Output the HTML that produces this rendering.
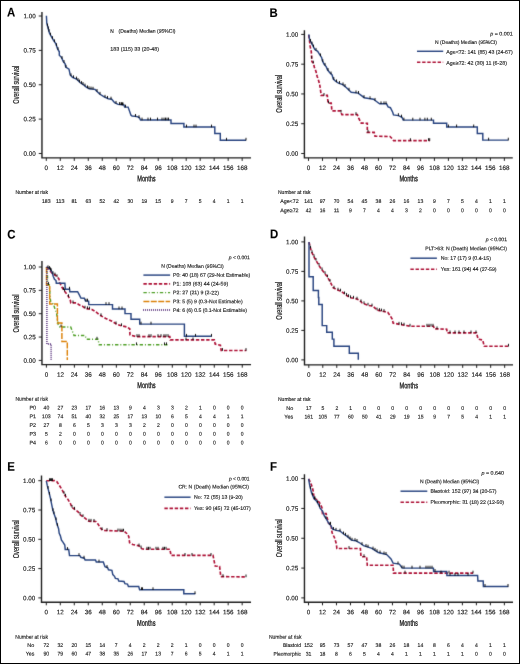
<!DOCTYPE html>
<html><head><meta charset="utf-8"><style>
html,body{margin:0;padding:0;background:#fff;}
svg{display:block;}
*{-webkit-font-smoothing:antialiased;}
text{font-family:"Liberation Sans", sans-serif;}
</style></head><body>
<svg width="520" height="664" viewBox="0 0 520 664">
<rect x="0" y="0" width="520" height="664" fill="#fff"/>
<defs><filter id="soft" filterUnits="userSpaceOnUse" x="0" y="0" width="520" height="664" color-interpolation-filters="sRGB"><feConvolveMatrix order="3" kernelMatrix="0.01 0.075 0.01 0.075 0.66 0.075 0.01 0.075 0.01" edgeMode="duplicate" preserveAlpha="false"/></filter><filter id="ident" filterUnits="userSpaceOnUse" x="0" y="0" width="520" height="664"><feOffset dx="0" dy="0"/></filter></defs>
<g fill="#1a1a1a" stroke="#1a1a1a" stroke-width="0.06" filter="url(#soft)">
<path d="M41.95,11.9 V157.9 H251" fill="none" stroke="#1e1e1e" stroke-width="1.4"/>
<line x1="38.75" y1="153.5" x2="41.95" y2="153.5" stroke="#1e1e1e" stroke-width="1"/>
<line x1="38.75" y1="119.12" x2="41.95" y2="119.12" stroke="#1e1e1e" stroke-width="1"/>
<line x1="38.75" y1="84.75" x2="41.95" y2="84.75" stroke="#1e1e1e" stroke-width="1"/>
<line x1="38.75" y1="50.38" x2="41.95" y2="50.38" stroke="#1e1e1e" stroke-width="1"/>
<line x1="38.75" y1="16" x2="41.95" y2="16" stroke="#1e1e1e" stroke-width="1"/>
<line x1="46.3" y1="157.9" x2="46.3" y2="160.9" stroke="#1e1e1e" stroke-width="1"/>
<line x1="60.29" y1="157.9" x2="60.29" y2="160.9" stroke="#1e1e1e" stroke-width="1"/>
<line x1="74.28" y1="157.9" x2="74.28" y2="160.9" stroke="#1e1e1e" stroke-width="1"/>
<line x1="88.27" y1="157.9" x2="88.27" y2="160.9" stroke="#1e1e1e" stroke-width="1"/>
<line x1="102.26" y1="157.9" x2="102.26" y2="160.9" stroke="#1e1e1e" stroke-width="1"/>
<line x1="116.25" y1="157.9" x2="116.25" y2="160.9" stroke="#1e1e1e" stroke-width="1"/>
<line x1="130.24" y1="157.9" x2="130.24" y2="160.9" stroke="#1e1e1e" stroke-width="1"/>
<line x1="144.23" y1="157.9" x2="144.23" y2="160.9" stroke="#1e1e1e" stroke-width="1"/>
<line x1="158.22" y1="157.9" x2="158.22" y2="160.9" stroke="#1e1e1e" stroke-width="1"/>
<line x1="172.21" y1="157.9" x2="172.21" y2="160.9" stroke="#1e1e1e" stroke-width="1"/>
<line x1="186.2" y1="157.9" x2="186.2" y2="160.9" stroke="#1e1e1e" stroke-width="1"/>
<line x1="200.19" y1="157.9" x2="200.19" y2="160.9" stroke="#1e1e1e" stroke-width="1"/>
<line x1="214.18" y1="157.9" x2="214.18" y2="160.9" stroke="#1e1e1e" stroke-width="1"/>
<line x1="228.17" y1="157.9" x2="228.17" y2="160.9" stroke="#1e1e1e" stroke-width="1"/>
<line x1="242.16" y1="157.9" x2="242.16" y2="160.9" stroke="#1e1e1e" stroke-width="1"/>
<path d="M304.4,30.2 V157.9 H512.8" fill="none" stroke="#1e1e1e" stroke-width="1.4"/>
<line x1="301.2" y1="153.5" x2="304.4" y2="153.5" stroke="#1e1e1e" stroke-width="1"/>
<line x1="301.2" y1="123.72" x2="304.4" y2="123.72" stroke="#1e1e1e" stroke-width="1"/>
<line x1="301.2" y1="93.95" x2="304.4" y2="93.95" stroke="#1e1e1e" stroke-width="1"/>
<line x1="301.2" y1="64.18" x2="304.4" y2="64.18" stroke="#1e1e1e" stroke-width="1"/>
<line x1="301.2" y1="34.4" x2="304.4" y2="34.4" stroke="#1e1e1e" stroke-width="1"/>
<line x1="308.5" y1="157.9" x2="308.5" y2="160.9" stroke="#1e1e1e" stroke-width="1"/>
<line x1="322.49" y1="157.9" x2="322.49" y2="160.9" stroke="#1e1e1e" stroke-width="1"/>
<line x1="336.48" y1="157.9" x2="336.48" y2="160.9" stroke="#1e1e1e" stroke-width="1"/>
<line x1="350.47" y1="157.9" x2="350.47" y2="160.9" stroke="#1e1e1e" stroke-width="1"/>
<line x1="364.46" y1="157.9" x2="364.46" y2="160.9" stroke="#1e1e1e" stroke-width="1"/>
<line x1="378.45" y1="157.9" x2="378.45" y2="160.9" stroke="#1e1e1e" stroke-width="1"/>
<line x1="392.44" y1="157.9" x2="392.44" y2="160.9" stroke="#1e1e1e" stroke-width="1"/>
<line x1="406.43" y1="157.9" x2="406.43" y2="160.9" stroke="#1e1e1e" stroke-width="1"/>
<line x1="420.42" y1="157.9" x2="420.42" y2="160.9" stroke="#1e1e1e" stroke-width="1"/>
<line x1="434.41" y1="157.9" x2="434.41" y2="160.9" stroke="#1e1e1e" stroke-width="1"/>
<line x1="448.4" y1="157.9" x2="448.4" y2="160.9" stroke="#1e1e1e" stroke-width="1"/>
<line x1="462.39" y1="157.9" x2="462.39" y2="160.9" stroke="#1e1e1e" stroke-width="1"/>
<line x1="476.38" y1="157.9" x2="476.38" y2="160.9" stroke="#1e1e1e" stroke-width="1"/>
<line x1="490.37" y1="157.9" x2="490.37" y2="160.9" stroke="#1e1e1e" stroke-width="1"/>
<line x1="504.36" y1="157.9" x2="504.36" y2="160.9" stroke="#1e1e1e" stroke-width="1"/>
<path d="M41.95,260.9 V364.65 H251" fill="none" stroke="#1e1e1e" stroke-width="1.4"/>
<line x1="38.75" y1="360.4" x2="41.95" y2="360.4" stroke="#1e1e1e" stroke-width="1"/>
<line x1="38.75" y1="337.05" x2="41.95" y2="337.05" stroke="#1e1e1e" stroke-width="1"/>
<line x1="38.75" y1="313.7" x2="41.95" y2="313.7" stroke="#1e1e1e" stroke-width="1"/>
<line x1="38.75" y1="290.35" x2="41.95" y2="290.35" stroke="#1e1e1e" stroke-width="1"/>
<line x1="38.75" y1="267" x2="41.95" y2="267" stroke="#1e1e1e" stroke-width="1"/>
<line x1="46.4" y1="364.65" x2="46.4" y2="367.65" stroke="#1e1e1e" stroke-width="1"/>
<line x1="60.39" y1="364.65" x2="60.39" y2="367.65" stroke="#1e1e1e" stroke-width="1"/>
<line x1="74.38" y1="364.65" x2="74.38" y2="367.65" stroke="#1e1e1e" stroke-width="1"/>
<line x1="88.37" y1="364.65" x2="88.37" y2="367.65" stroke="#1e1e1e" stroke-width="1"/>
<line x1="102.36" y1="364.65" x2="102.36" y2="367.65" stroke="#1e1e1e" stroke-width="1"/>
<line x1="116.35" y1="364.65" x2="116.35" y2="367.65" stroke="#1e1e1e" stroke-width="1"/>
<line x1="130.34" y1="364.65" x2="130.34" y2="367.65" stroke="#1e1e1e" stroke-width="1"/>
<line x1="144.33" y1="364.65" x2="144.33" y2="367.65" stroke="#1e1e1e" stroke-width="1"/>
<line x1="158.32" y1="364.65" x2="158.32" y2="367.65" stroke="#1e1e1e" stroke-width="1"/>
<line x1="172.31" y1="364.65" x2="172.31" y2="367.65" stroke="#1e1e1e" stroke-width="1"/>
<line x1="186.3" y1="364.65" x2="186.3" y2="367.65" stroke="#1e1e1e" stroke-width="1"/>
<line x1="200.29" y1="364.65" x2="200.29" y2="367.65" stroke="#1e1e1e" stroke-width="1"/>
<line x1="214.28" y1="364.65" x2="214.28" y2="367.65" stroke="#1e1e1e" stroke-width="1"/>
<line x1="228.27" y1="364.65" x2="228.27" y2="367.65" stroke="#1e1e1e" stroke-width="1"/>
<line x1="242.26" y1="364.65" x2="242.26" y2="367.65" stroke="#1e1e1e" stroke-width="1"/>
<path d="M304.5,236.4 V364.85 H513" fill="none" stroke="#1e1e1e" stroke-width="1.4"/>
<line x1="301.3" y1="359.9" x2="304.5" y2="359.9" stroke="#1e1e1e" stroke-width="1"/>
<line x1="301.3" y1="330.4" x2="304.5" y2="330.4" stroke="#1e1e1e" stroke-width="1"/>
<line x1="301.3" y1="300.9" x2="304.5" y2="300.9" stroke="#1e1e1e" stroke-width="1"/>
<line x1="301.3" y1="271.4" x2="304.5" y2="271.4" stroke="#1e1e1e" stroke-width="1"/>
<line x1="301.3" y1="241.9" x2="304.5" y2="241.9" stroke="#1e1e1e" stroke-width="1"/>
<line x1="308.8" y1="364.85" x2="308.8" y2="367.85" stroke="#1e1e1e" stroke-width="1"/>
<line x1="322.79" y1="364.85" x2="322.79" y2="367.85" stroke="#1e1e1e" stroke-width="1"/>
<line x1="336.78" y1="364.85" x2="336.78" y2="367.85" stroke="#1e1e1e" stroke-width="1"/>
<line x1="350.77" y1="364.85" x2="350.77" y2="367.85" stroke="#1e1e1e" stroke-width="1"/>
<line x1="364.76" y1="364.85" x2="364.76" y2="367.85" stroke="#1e1e1e" stroke-width="1"/>
<line x1="378.75" y1="364.85" x2="378.75" y2="367.85" stroke="#1e1e1e" stroke-width="1"/>
<line x1="392.74" y1="364.85" x2="392.74" y2="367.85" stroke="#1e1e1e" stroke-width="1"/>
<line x1="406.73" y1="364.85" x2="406.73" y2="367.85" stroke="#1e1e1e" stroke-width="1"/>
<line x1="420.72" y1="364.85" x2="420.72" y2="367.85" stroke="#1e1e1e" stroke-width="1"/>
<line x1="434.71" y1="364.85" x2="434.71" y2="367.85" stroke="#1e1e1e" stroke-width="1"/>
<line x1="448.7" y1="364.85" x2="448.7" y2="367.85" stroke="#1e1e1e" stroke-width="1"/>
<line x1="462.69" y1="364.85" x2="462.69" y2="367.85" stroke="#1e1e1e" stroke-width="1"/>
<line x1="476.68" y1="364.85" x2="476.68" y2="367.85" stroke="#1e1e1e" stroke-width="1"/>
<line x1="490.67" y1="364.85" x2="490.67" y2="367.85" stroke="#1e1e1e" stroke-width="1"/>
<line x1="504.66" y1="364.85" x2="504.66" y2="367.85" stroke="#1e1e1e" stroke-width="1"/>
<path d="M41.5,475.6 V602.3 H251" fill="none" stroke="#1e1e1e" stroke-width="1.4"/>
<line x1="38.3" y1="597.9" x2="41.5" y2="597.9" stroke="#1e1e1e" stroke-width="1"/>
<line x1="38.3" y1="568.6" x2="41.5" y2="568.6" stroke="#1e1e1e" stroke-width="1"/>
<line x1="38.3" y1="539.3" x2="41.5" y2="539.3" stroke="#1e1e1e" stroke-width="1"/>
<line x1="38.3" y1="510" x2="41.5" y2="510" stroke="#1e1e1e" stroke-width="1"/>
<line x1="38.3" y1="480.7" x2="41.5" y2="480.7" stroke="#1e1e1e" stroke-width="1"/>
<line x1="46.3" y1="602.3" x2="46.3" y2="605.3" stroke="#1e1e1e" stroke-width="1"/>
<line x1="60.29" y1="602.3" x2="60.29" y2="605.3" stroke="#1e1e1e" stroke-width="1"/>
<line x1="74.28" y1="602.3" x2="74.28" y2="605.3" stroke="#1e1e1e" stroke-width="1"/>
<line x1="88.27" y1="602.3" x2="88.27" y2="605.3" stroke="#1e1e1e" stroke-width="1"/>
<line x1="102.26" y1="602.3" x2="102.26" y2="605.3" stroke="#1e1e1e" stroke-width="1"/>
<line x1="116.25" y1="602.3" x2="116.25" y2="605.3" stroke="#1e1e1e" stroke-width="1"/>
<line x1="130.24" y1="602.3" x2="130.24" y2="605.3" stroke="#1e1e1e" stroke-width="1"/>
<line x1="144.23" y1="602.3" x2="144.23" y2="605.3" stroke="#1e1e1e" stroke-width="1"/>
<line x1="158.22" y1="602.3" x2="158.22" y2="605.3" stroke="#1e1e1e" stroke-width="1"/>
<line x1="172.21" y1="602.3" x2="172.21" y2="605.3" stroke="#1e1e1e" stroke-width="1"/>
<line x1="186.2" y1="602.3" x2="186.2" y2="605.3" stroke="#1e1e1e" stroke-width="1"/>
<line x1="200.19" y1="602.3" x2="200.19" y2="605.3" stroke="#1e1e1e" stroke-width="1"/>
<line x1="214.18" y1="602.3" x2="214.18" y2="605.3" stroke="#1e1e1e" stroke-width="1"/>
<line x1="228.17" y1="602.3" x2="228.17" y2="605.3" stroke="#1e1e1e" stroke-width="1"/>
<line x1="242.16" y1="602.3" x2="242.16" y2="605.3" stroke="#1e1e1e" stroke-width="1"/>
<path d="M304.45,474.3 V602.3 H513" fill="none" stroke="#1e1e1e" stroke-width="1.4"/>
<line x1="301.25" y1="597.9" x2="304.45" y2="597.9" stroke="#1e1e1e" stroke-width="1"/>
<line x1="301.25" y1="568.08" x2="304.45" y2="568.08" stroke="#1e1e1e" stroke-width="1"/>
<line x1="301.25" y1="538.25" x2="304.45" y2="538.25" stroke="#1e1e1e" stroke-width="1"/>
<line x1="301.25" y1="508.43" x2="304.45" y2="508.43" stroke="#1e1e1e" stroke-width="1"/>
<line x1="301.25" y1="478.6" x2="304.45" y2="478.6" stroke="#1e1e1e" stroke-width="1"/>
<line x1="308.5" y1="602.3" x2="308.5" y2="605.3" stroke="#1e1e1e" stroke-width="1"/>
<line x1="322.49" y1="602.3" x2="322.49" y2="605.3" stroke="#1e1e1e" stroke-width="1"/>
<line x1="336.48" y1="602.3" x2="336.48" y2="605.3" stroke="#1e1e1e" stroke-width="1"/>
<line x1="350.47" y1="602.3" x2="350.47" y2="605.3" stroke="#1e1e1e" stroke-width="1"/>
<line x1="364.46" y1="602.3" x2="364.46" y2="605.3" stroke="#1e1e1e" stroke-width="1"/>
<line x1="378.45" y1="602.3" x2="378.45" y2="605.3" stroke="#1e1e1e" stroke-width="1"/>
<line x1="392.44" y1="602.3" x2="392.44" y2="605.3" stroke="#1e1e1e" stroke-width="1"/>
<line x1="406.43" y1="602.3" x2="406.43" y2="605.3" stroke="#1e1e1e" stroke-width="1"/>
<line x1="420.42" y1="602.3" x2="420.42" y2="605.3" stroke="#1e1e1e" stroke-width="1"/>
<line x1="434.41" y1="602.3" x2="434.41" y2="605.3" stroke="#1e1e1e" stroke-width="1"/>
<line x1="448.4" y1="602.3" x2="448.4" y2="605.3" stroke="#1e1e1e" stroke-width="1"/>
<line x1="462.39" y1="602.3" x2="462.39" y2="605.3" stroke="#1e1e1e" stroke-width="1"/>
<line x1="476.38" y1="602.3" x2="476.38" y2="605.3" stroke="#1e1e1e" stroke-width="1"/>
<line x1="490.37" y1="602.3" x2="490.37" y2="605.3" stroke="#1e1e1e" stroke-width="1"/>
<line x1="504.36" y1="602.3" x2="504.36" y2="605.3" stroke="#1e1e1e" stroke-width="1"/>
<line x1="417" y1="51.3" x2="443.2" y2="51.3" stroke="#284480" stroke-width="1.45"/>
<line x1="417" y1="62.3" x2="443.2" y2="62.3" stroke="#ae1237" stroke-width="1.6" stroke-dasharray="3.4,1.75"/>
<line x1="143.4" y1="275.1" x2="170.1" y2="275.1" stroke="#284480" stroke-width="1.45"/>
<line x1="143.4" y1="283.9" x2="170.1" y2="283.9" stroke="#ae1237" stroke-width="1.6" stroke-dasharray="3.4,1.75"/>
<line x1="143.4" y1="292.7" x2="170.1" y2="292.7" stroke="#50a028" stroke-width="1.3" stroke-dasharray="3.4,1.9,1.0,1.9"/>
<line x1="143.4" y1="301.5" x2="170.1" y2="301.5" stroke="#dc820a" stroke-width="1.3" stroke-dasharray="6.0,1.4"/>
<line x1="143" y1="310.1" x2="170" y2="310.1" stroke="#4b2272" stroke-width="1.5" stroke-dasharray="1.0,1.0"/>
<line x1="410.4" y1="258.2" x2="436.9" y2="258.2" stroke="#284480" stroke-width="1.45"/>
<line x1="410.4" y1="269.2" x2="436.9" y2="269.2" stroke="#ae1237" stroke-width="1.6" stroke-dasharray="3.4,1.75"/>
<line x1="164.4" y1="497.2" x2="190.6" y2="497.2" stroke="#284480" stroke-width="1.45"/>
<line x1="164.4" y1="508.4" x2="190.6" y2="508.4" stroke="#ae1237" stroke-width="1.6" stroke-dasharray="3.4,1.75"/>
<line x1="400.5" y1="491.2" x2="427.3" y2="491.2" stroke="#284480" stroke-width="1.45"/>
<line x1="400.5" y1="502.2" x2="427.3" y2="502.2" stroke="#ae1237" stroke-width="1.6" stroke-dasharray="3.4,1.75"/>
<polyline points="46.4,15.8 46.8,23.5 47.8,27 49.5,33.3 51.8,37.4 53.5,40.3 55.8,43.7 57.6,48.9 59.3,51.8 59.3,55.3 61.6,57.6 63.3,61.6 65.1,63.9 65.7,67 69,69.2 70.2,75 72.5,77.3 76.5,79 80,82.5 83.5,84.8 86.3,87.1 89.2,88.8 95,89.4 99.6,94 104.2,96.9 108.3,98.7 111.7,99.2 114.6,102.7 118.1,104.4 124,105 124.6,107.1 128.1,107.1 131,115.2 132.1,116 135,116.3 137.9,116.9 139.6,118.1 140.5,120 171,120 171,123.4 183.9,123.4 183.9,127 214.8,127 214.8,133.4 220.3,133.4 220.3,140.2 246,140.2" fill="none" stroke="#284480" stroke-width="1.45" stroke-linejoin="miter"/>
<line x1="47.5" y1="26.25" x2="47.5" y2="23.55" stroke="#000" stroke-width="0.9"/>
<line x1="48.3" y1="29.15" x2="48.3" y2="26.45" stroke="#000" stroke-width="0.9"/>
<line x1="49" y1="31.75" x2="49" y2="29.05" stroke="#000" stroke-width="0.9"/>
<line x1="50.5" y1="35.38" x2="50.5" y2="32.68" stroke="#000" stroke-width="0.9"/>
<line x1="52.5" y1="38.89" x2="52.5" y2="36.19" stroke="#000" stroke-width="0.9"/>
<line x1="54.5" y1="42.08" x2="54.5" y2="39.38" stroke="#000" stroke-width="0.9"/>
<line x1="56.5" y1="46.02" x2="56.5" y2="43.32" stroke="#000" stroke-width="0.9"/>
<line x1="58" y1="49.88" x2="58" y2="47.18" stroke="#000" stroke-width="0.9"/>
<line x1="62" y1="58.84" x2="62" y2="56.14" stroke="#000" stroke-width="0.9"/>
<line x1="64" y1="62.79" x2="64" y2="60.09" stroke="#000" stroke-width="0.9"/>
<line x1="66" y1="67.5" x2="66" y2="64.8" stroke="#000" stroke-width="0.9"/>
<line x1="71" y1="76.1" x2="71" y2="73.4" stroke="#000" stroke-width="0.9"/>
<line x1="73.5" y1="78.02" x2="73.5" y2="75.32" stroke="#000" stroke-width="0.9"/>
<line x1="76.5" y1="79.3" x2="76.5" y2="76.6" stroke="#000" stroke-width="0.9"/>
<line x1="78" y1="80.8" x2="78" y2="78.1" stroke="#000" stroke-width="0.9"/>
<line x1="79.5" y1="82.3" x2="79.5" y2="79.6" stroke="#000" stroke-width="0.9"/>
<line x1="81.5" y1="83.79" x2="81.5" y2="81.09" stroke="#000" stroke-width="0.9"/>
<line x1="83" y1="84.77" x2="83" y2="82.07" stroke="#000" stroke-width="0.9"/>
<line x1="85" y1="86.33" x2="85" y2="83.63" stroke="#000" stroke-width="0.9"/>
<line x1="87.5" y1="88.1" x2="87.5" y2="85.4" stroke="#000" stroke-width="0.9"/>
<line x1="89" y1="88.98" x2="89" y2="86.28" stroke="#000" stroke-width="0.9"/>
<line x1="91" y1="89.29" x2="91" y2="86.59" stroke="#000" stroke-width="0.9"/>
<line x1="93" y1="89.49" x2="93" y2="86.79" stroke="#000" stroke-width="0.9"/>
<line x1="97" y1="91.7" x2="97" y2="89" stroke="#000" stroke-width="0.9"/>
<line x1="100" y1="94.55" x2="100" y2="91.85" stroke="#000" stroke-width="0.9"/>
<line x1="105" y1="97.55" x2="105" y2="94.85" stroke="#000" stroke-width="0.9"/>
<line x1="107.5" y1="98.65" x2="107.5" y2="95.95" stroke="#000" stroke-width="0.9"/>
<line x1="111" y1="99.4" x2="111" y2="96.7" stroke="#000" stroke-width="0.9"/>
<line x1="116" y1="103.68" x2="116" y2="100.98" stroke="#000" stroke-width="0.9"/>
<line x1="119.5" y1="104.84" x2="119.5" y2="102.14" stroke="#000" stroke-width="0.9"/>
<line x1="121" y1="104.99" x2="121" y2="102.29" stroke="#000" stroke-width="0.9"/>
<line x1="122.5" y1="105.15" x2="122.5" y2="102.45" stroke="#000" stroke-width="0.9"/>
<line x1="121.5" y1="105.05" x2="121.5" y2="102.35" stroke="#000" stroke-width="0.9"/>
<line x1="123" y1="105.2" x2="123" y2="102.5" stroke="#000" stroke-width="0.9"/>
<line x1="125.5" y1="107.4" x2="125.5" y2="104.7" stroke="#000" stroke-width="0.9"/>
<line x1="135.5" y1="116.7" x2="135.5" y2="114" stroke="#000" stroke-width="0.9"/>
<line x1="139" y1="117.98" x2="139" y2="115.28" stroke="#000" stroke-width="0.9"/>
<line x1="142" y1="120.3" x2="142" y2="117.6" stroke="#000" stroke-width="0.9"/>
<line x1="148" y1="120.3" x2="148" y2="117.6" stroke="#000" stroke-width="0.9"/>
<line x1="150.5" y1="120.3" x2="150.5" y2="117.6" stroke="#000" stroke-width="0.9"/>
<line x1="157.5" y1="120.3" x2="157.5" y2="117.6" stroke="#000" stroke-width="0.9"/>
<line x1="162" y1="120.3" x2="162" y2="117.6" stroke="#000" stroke-width="0.9"/>
<line x1="164" y1="120.3" x2="164" y2="117.6" stroke="#000" stroke-width="0.9"/>
<line x1="165.5" y1="120.3" x2="165.5" y2="117.6" stroke="#000" stroke-width="0.9"/>
<line x1="167" y1="120.3" x2="167" y2="117.6" stroke="#000" stroke-width="0.9"/>
<line x1="168.5" y1="120.3" x2="168.5" y2="117.6" stroke="#000" stroke-width="0.9"/>
<line x1="186.5" y1="127.3" x2="186.5" y2="124.6" stroke="#000" stroke-width="0.9"/>
<line x1="194" y1="127.3" x2="194" y2="124.6" stroke="#000" stroke-width="0.9"/>
<line x1="196" y1="127.3" x2="196" y2="124.6" stroke="#000" stroke-width="0.9"/>
<line x1="211.5" y1="127.3" x2="211.5" y2="124.6" stroke="#000" stroke-width="0.9"/>
<line x1="226.5" y1="140.5" x2="226.5" y2="137.8" stroke="#000" stroke-width="0.9"/>
<line x1="246" y1="140.5" x2="246" y2="137.8" stroke="#000" stroke-width="0.9"/>
<polyline points="308.8,35 309.6,41.5 310.2,46.7 311.3,51.9 311.9,61.7 313.7,63.5 314.2,66.9 316,71.5 317.1,76.2 318.3,79.6 319.6,84 320.5,90 321.2,95.4 327.3,95.4 328.1,103.1 331.2,103.1 331.9,110.8 340.4,110.8 341.9,114.6 357.3,114.6 358.8,118.5 361.2,123.1 367.3,123.3 367.3,132.3 374.2,132.3 375,136.2 390,136.5 392.4,138.9 393.6,140.6 429.7,140.6" fill="none" stroke="#ae1237" stroke-width="1.65" stroke-linejoin="miter" stroke-dasharray="3.4,1.75"/>
<polyline points="308.8,34.4 309.6,39.8 311.3,42.7 313.1,46.2 314.8,49.6 317.7,51.3 319.4,54.2 321.7,57.7 322.3,60.6 324,64 326.3,66.9 327.5,69.8 329.8,72.7 332.1,75 333.3,79 335.6,81.3 338.5,83.1 342.7,84.6 346.5,87.7 351.2,92.3 358.1,93.1 361.2,95.4 364.2,97.7 368.8,98.5 373.5,99.2 376.5,101.5 379.6,103.8 386.5,103.8 388.1,106.9 390.4,107.7 392.7,112.3 393.5,114.9 398.4,115.6 402,117.3 403.2,120.1 433.5,120.1 433.5,123.3 446.7,123.3 446.7,126.9 477.3,126.9 477.3,133.4 482.8,133.4 482.8,140.1 508.3,140.1" fill="none" stroke="#284480" stroke-width="1.45" stroke-linejoin="miter"/>
<line x1="310.5" y1="41.64" x2="310.5" y2="38.94" stroke="#000" stroke-width="0.9"/>
<line x1="312" y1="44.36" x2="312" y2="41.66" stroke="#000" stroke-width="0.9"/>
<line x1="313.5" y1="47.3" x2="313.5" y2="44.6" stroke="#000" stroke-width="0.9"/>
<line x1="316" y1="50.6" x2="316" y2="47.9" stroke="#000" stroke-width="0.9"/>
<line x1="320.5" y1="56.17" x2="320.5" y2="53.47" stroke="#000" stroke-width="0.9"/>
<line x1="322.8" y1="61.9" x2="322.8" y2="59.2" stroke="#000" stroke-width="0.9"/>
<line x1="325" y1="65.56" x2="325" y2="62.86" stroke="#000" stroke-width="0.9"/>
<line x1="328" y1="70.73" x2="328" y2="68.03" stroke="#000" stroke-width="0.9"/>
<line x1="331" y1="74.2" x2="331" y2="71.5" stroke="#000" stroke-width="0.9"/>
<line x1="333.8" y1="79.8" x2="333.8" y2="77.1" stroke="#000" stroke-width="0.9"/>
<line x1="336.5" y1="82.16" x2="336.5" y2="79.46" stroke="#000" stroke-width="0.9"/>
<line x1="339.5" y1="83.76" x2="339.5" y2="81.06" stroke="#000" stroke-width="0.9"/>
<line x1="343" y1="85.14" x2="343" y2="82.44" stroke="#000" stroke-width="0.9"/>
<line x1="345" y1="86.78" x2="345" y2="84.08" stroke="#000" stroke-width="0.9"/>
<line x1="349" y1="90.45" x2="349" y2="87.75" stroke="#000" stroke-width="0.9"/>
<line x1="356" y1="93.16" x2="356" y2="90.46" stroke="#000" stroke-width="0.9"/>
<line x1="358.5" y1="93.7" x2="358.5" y2="91" stroke="#000" stroke-width="0.9"/>
<line x1="364" y1="97.85" x2="364" y2="95.15" stroke="#000" stroke-width="0.9"/>
<line x1="370" y1="98.98" x2="370" y2="96.28" stroke="#000" stroke-width="0.9"/>
<line x1="375" y1="100.65" x2="375" y2="97.95" stroke="#000" stroke-width="0.9"/>
<line x1="381" y1="104.1" x2="381" y2="101.4" stroke="#000" stroke-width="0.9"/>
<line x1="384" y1="104.1" x2="384" y2="101.4" stroke="#000" stroke-width="0.9"/>
<line x1="386" y1="104.1" x2="386" y2="101.4" stroke="#000" stroke-width="0.9"/>
<line x1="398.4" y1="115.9" x2="398.4" y2="113.2" stroke="#000" stroke-width="0.9"/>
<line x1="401.5" y1="117.36" x2="401.5" y2="114.66" stroke="#000" stroke-width="0.9"/>
<line x1="403.9" y1="120.4" x2="403.9" y2="117.7" stroke="#000" stroke-width="0.9"/>
<line x1="412.8" y1="120.4" x2="412.8" y2="117.7" stroke="#000" stroke-width="0.9"/>
<line x1="420" y1="120.4" x2="420" y2="117.7" stroke="#000" stroke-width="0.9"/>
<line x1="424.9" y1="120.4" x2="424.9" y2="117.7" stroke="#000" stroke-width="0.9"/>
<line x1="427.3" y1="120.4" x2="427.3" y2="117.7" stroke="#000" stroke-width="0.9"/>
<line x1="431.3" y1="120.4" x2="431.3" y2="117.7" stroke="#000" stroke-width="0.9"/>
<line x1="448.4" y1="127.2" x2="448.4" y2="124.5" stroke="#000" stroke-width="0.9"/>
<line x1="456.6" y1="127.2" x2="456.6" y2="124.5" stroke="#000" stroke-width="0.9"/>
<line x1="473.7" y1="127.2" x2="473.7" y2="124.5" stroke="#000" stroke-width="0.9"/>
<line x1="488.6" y1="140.4" x2="488.6" y2="137.7" stroke="#000" stroke-width="0.9"/>
<line x1="508.3" y1="140.4" x2="508.3" y2="137.7" stroke="#000" stroke-width="0.9"/>
<line x1="311.7" y1="58.73" x2="311.7" y2="56.03" stroke="#000" stroke-width="0.9"/>
<line x1="313.3" y1="63.4" x2="313.3" y2="60.7" stroke="#000" stroke-width="0.9"/>
<line x1="324" y1="95.7" x2="324" y2="93" stroke="#000" stroke-width="0.9"/>
<line x1="328.5" y1="103.4" x2="328.5" y2="100.7" stroke="#000" stroke-width="0.9"/>
<line x1="341" y1="112.62" x2="341" y2="109.92" stroke="#000" stroke-width="0.9"/>
<line x1="356" y1="114.9" x2="356" y2="112.2" stroke="#000" stroke-width="0.9"/>
<line x1="368" y1="132.6" x2="368" y2="129.9" stroke="#000" stroke-width="0.9"/>
<line x1="410.4" y1="140.9" x2="410.4" y2="138.2" stroke="#000" stroke-width="0.9"/>
<line x1="428.5" y1="140.9" x2="428.5" y2="138.2" stroke="#000" stroke-width="0.9"/>
<line x1="429.7" y1="140.9" x2="429.7" y2="138.2" stroke="#000" stroke-width="0.9"/>
<polyline points="46.5,267 47.4,275 47.7,284.2 49.2,284.8 49.7,290.8 50.2,298.5 50.7,301.4 53.5,304.3 55,309.1 56.6,313 58.2,324.6 59.9,327 70.7,327 74,335.4 84.8,335.4 86.7,339.2 98,339.2 99.2,344.8 167.5,344.8" fill="none" stroke="#50a028" stroke-width="1.45" stroke-linejoin="miter" stroke-dasharray="3.4,1.9,1.0,1.9"/>
<polyline points="46.5,267 49.5,270 52,273.1 55.7,275.5 58.8,278.6 59.7,282.3 61.2,286 63.1,289.1 65,291.8 68,295.7 70.4,300.5 70.8,302.9 76.6,302.9 79,304.8 82.4,306.2 85.3,308.4 91.9,309.5 95.4,311.5 99.7,315 105.8,318.5 112.7,321.6 116.2,324 121.3,325.7 127.4,327.1 129.7,328.8 130,334.9 136.1,336.6 169.8,336.6 170.2,339.9 214.3,339.9 215.2,344.1 220.4,345.3 221.2,350.5 246.3,350.5" fill="none" stroke="#ae1237" stroke-width="1.65" stroke-linejoin="miter" stroke-dasharray="3.4,1.75"/>
<polyline points="46.5,267 49.5,268.5 52,271.8 53.2,276.2 54.5,279.2 56,280.5 56.3,283.2 64.9,283.2 65.3,289.2 69.6,289.2 69.8,291.7 77.6,291.7 79.2,294.7 80.9,298 84.3,298.3 85.5,301.1 88.6,301.1 88.8,304.6 112.5,304.6 112.5,308.9 125,308.9 125,313.6 131,313.6 131,319.3 139.7,319.3 139.7,324.1 184.4,324.1 184.4,336.3 211.7,336.3" fill="none" stroke="#284480" stroke-width="1.45" stroke-linejoin="miter"/>
<polyline points="46.5,267 46.5,285.1 49.7,285.1 49.7,304 57.4,304 57.4,323 61.9,323 61.9,341.5 67.3,341.5 67.3,360" fill="none" stroke="#dc820a" stroke-width="1.45" stroke-linejoin="miter" stroke-dasharray="6.0,1.4"/>
<polyline points="46.9,267 46.9,344 51.1,344 51.1,360.4" fill="none" stroke="#4b2272" stroke-width="1.4" stroke-linejoin="miter" stroke-dasharray="1.0,1.0"/>
<line x1="48" y1="268.05" x2="48" y2="265.35" stroke="#000" stroke-width="0.9"/>
<line x1="49.5" y1="268.8" x2="49.5" y2="266.1" stroke="#000" stroke-width="0.9"/>
<line x1="50.5" y1="270.12" x2="50.5" y2="267.42" stroke="#000" stroke-width="0.9"/>
<line x1="51.2" y1="271.04" x2="51.2" y2="268.34" stroke="#000" stroke-width="0.9"/>
<line x1="69.5" y1="289.5" x2="69.5" y2="286.8" stroke="#000" stroke-width="0.9"/>
<line x1="86" y1="301.4" x2="86" y2="298.7" stroke="#000" stroke-width="0.9"/>
<line x1="87.5" y1="301.4" x2="87.5" y2="298.7" stroke="#000" stroke-width="0.9"/>
<line x1="106" y1="304.9" x2="106" y2="302.2" stroke="#000" stroke-width="0.9"/>
<line x1="109" y1="304.9" x2="109" y2="302.2" stroke="#000" stroke-width="0.9"/>
<line x1="119" y1="309.2" x2="119" y2="306.5" stroke="#000" stroke-width="0.9"/>
<line x1="122" y1="309.2" x2="122" y2="306.5" stroke="#000" stroke-width="0.9"/>
<line x1="141" y1="324.4" x2="141" y2="321.7" stroke="#000" stroke-width="0.9"/>
<line x1="151" y1="324.4" x2="151" y2="321.7" stroke="#000" stroke-width="0.9"/>
<line x1="186.5" y1="336.6" x2="186.5" y2="333.9" stroke="#000" stroke-width="0.9"/>
<line x1="195.5" y1="336.6" x2="195.5" y2="333.9" stroke="#000" stroke-width="0.9"/>
<line x1="211.5" y1="336.6" x2="211.5" y2="333.9" stroke="#000" stroke-width="0.9"/>
<line x1="53" y1="274.05" x2="53" y2="271.35" stroke="#000" stroke-width="0.9"/>
<line x1="55" y1="275.35" x2="55" y2="272.65" stroke="#000" stroke-width="0.9"/>
<line x1="57" y1="277.1" x2="57" y2="274.4" stroke="#000" stroke-width="0.9"/>
<line x1="63.5" y1="289.97" x2="63.5" y2="287.27" stroke="#000" stroke-width="0.9"/>
<line x1="64.5" y1="291.39" x2="64.5" y2="288.69" stroke="#000" stroke-width="0.9"/>
<line x1="68.5" y1="297" x2="68.5" y2="294.3" stroke="#000" stroke-width="0.9"/>
<line x1="73" y1="303.2" x2="73" y2="300.5" stroke="#000" stroke-width="0.9"/>
<line x1="85" y1="308.47" x2="85" y2="305.77" stroke="#000" stroke-width="0.9"/>
<line x1="87.5" y1="309.07" x2="87.5" y2="306.37" stroke="#000" stroke-width="0.9"/>
<line x1="89.5" y1="309.4" x2="89.5" y2="306.7" stroke="#000" stroke-width="0.9"/>
<line x1="101" y1="316.05" x2="101" y2="313.35" stroke="#000" stroke-width="0.9"/>
<line x1="116" y1="324.16" x2="116" y2="321.46" stroke="#000" stroke-width="0.9"/>
<line x1="121.5" y1="326.05" x2="121.5" y2="323.35" stroke="#000" stroke-width="0.9"/>
<line x1="137" y1="336.9" x2="137" y2="334.2" stroke="#000" stroke-width="0.9"/>
<line x1="139" y1="336.9" x2="139" y2="334.2" stroke="#000" stroke-width="0.9"/>
<line x1="149" y1="336.9" x2="149" y2="334.2" stroke="#000" stroke-width="0.9"/>
<line x1="151" y1="336.9" x2="151" y2="334.2" stroke="#000" stroke-width="0.9"/>
<line x1="158" y1="336.9" x2="158" y2="334.2" stroke="#000" stroke-width="0.9"/>
<line x1="161" y1="336.9" x2="161" y2="334.2" stroke="#000" stroke-width="0.9"/>
<line x1="164" y1="336.9" x2="164" y2="334.2" stroke="#000" stroke-width="0.9"/>
<line x1="166" y1="336.9" x2="166" y2="334.2" stroke="#000" stroke-width="0.9"/>
<line x1="168" y1="336.9" x2="168" y2="334.2" stroke="#000" stroke-width="0.9"/>
<line x1="186" y1="340.2" x2="186" y2="337.5" stroke="#000" stroke-width="0.9"/>
<line x1="193" y1="340.2" x2="193" y2="337.5" stroke="#000" stroke-width="0.9"/>
<line x1="222.5" y1="350.8" x2="222.5" y2="348.1" stroke="#000" stroke-width="0.9"/>
<line x1="246" y1="350.8" x2="246" y2="348.1" stroke="#000" stroke-width="0.9"/>
<line x1="48.5" y1="284.82" x2="48.5" y2="282.12" stroke="#000" stroke-width="0.9"/>
<line x1="61" y1="327.3" x2="61" y2="324.6" stroke="#000" stroke-width="0.9"/>
<line x1="97" y1="339.5" x2="97" y2="336.8" stroke="#000" stroke-width="0.9"/>
<line x1="136.5" y1="345.1" x2="136.5" y2="342.4" stroke="#000" stroke-width="0.9"/>
<line x1="164.5" y1="345.1" x2="164.5" y2="342.4" stroke="#000" stroke-width="0.9"/>
<line x1="166.5" y1="345.1" x2="166.5" y2="342.4" stroke="#000" stroke-width="0.9"/>
<polyline points="309,242.1 311.3,251.3 315,258.8 320.7,268.2 327.3,276.7 330,281.5 333.1,287.7 337.7,290 341.5,291.5 345.4,294.6 350,297.7 355.4,298.5 359.2,300 362.3,303.1 368.5,305.4 373.1,306.2 376.9,310 383.8,311.5 387.7,312.3 390,315.4 392.3,319.2 393.1,323.1 400.8,324.6 410,326.2 433.5,326.2 434.4,328.8 446.7,329.2 447.3,332.9 476.5,332.9 478.1,339.1 482.7,340 484.2,346.2 508.8,346.2" fill="none" stroke="#ae1237" stroke-width="1.65" stroke-linejoin="miter" stroke-dasharray="3.4,1.75"/>
<polyline points="309,242.1 309,276.7 313.2,276.7 313.2,290.4 318.4,290.4 318.4,297.4 318.8,297.4 318.8,304.5 322.2,304.5 322.2,325.6 326.7,325.6 326.7,332.2 332.3,332.2 332.3,339.1 333.9,339.1 333.9,346.3 349.3,346.3 349.3,353.2 358.3,353.2 358.3,359.8" fill="none" stroke="#284480" stroke-width="1.45" stroke-linejoin="miter"/>
<line x1="310.5" y1="248.4" x2="310.5" y2="245.7" stroke="#000" stroke-width="0.9"/>
<line x1="312" y1="253.02" x2="312" y2="250.32" stroke="#000" stroke-width="0.9"/>
<line x1="314" y1="257.07" x2="314" y2="254.37" stroke="#000" stroke-width="0.9"/>
<line x1="316" y1="260.75" x2="316" y2="258.05" stroke="#000" stroke-width="0.9"/>
<line x1="319" y1="265.7" x2="319" y2="263" stroke="#000" stroke-width="0.9"/>
<line x1="322" y1="270.17" x2="322" y2="267.47" stroke="#000" stroke-width="0.9"/>
<line x1="325" y1="274.04" x2="325" y2="271.34" stroke="#000" stroke-width="0.9"/>
<line x1="327.5" y1="277.36" x2="327.5" y2="274.66" stroke="#000" stroke-width="0.9"/>
<line x1="330" y1="281.8" x2="330" y2="279.1" stroke="#000" stroke-width="0.9"/>
<line x1="334" y1="288.45" x2="334" y2="285.75" stroke="#000" stroke-width="0.9"/>
<line x1="338" y1="290.42" x2="338" y2="287.72" stroke="#000" stroke-width="0.9"/>
<line x1="340.5" y1="291.41" x2="340.5" y2="288.71" stroke="#000" stroke-width="0.9"/>
<line x1="344.5" y1="294.18" x2="344.5" y2="291.48" stroke="#000" stroke-width="0.9"/>
<line x1="346.5" y1="295.64" x2="346.5" y2="292.94" stroke="#000" stroke-width="0.9"/>
<line x1="348.5" y1="296.99" x2="348.5" y2="294.29" stroke="#000" stroke-width="0.9"/>
<line x1="350.5" y1="298.07" x2="350.5" y2="295.37" stroke="#000" stroke-width="0.9"/>
<line x1="353.5" y1="298.52" x2="353.5" y2="295.82" stroke="#000" stroke-width="0.9"/>
<line x1="357" y1="299.43" x2="357" y2="296.73" stroke="#000" stroke-width="0.9"/>
<line x1="361" y1="302.1" x2="361" y2="299.4" stroke="#000" stroke-width="0.9"/>
<line x1="364" y1="304.03" x2="364" y2="301.33" stroke="#000" stroke-width="0.9"/>
<line x1="368" y1="305.51" x2="368" y2="302.81" stroke="#000" stroke-width="0.9"/>
<line x1="372" y1="306.31" x2="372" y2="303.61" stroke="#000" stroke-width="0.9"/>
<line x1="377" y1="310.32" x2="377" y2="307.62" stroke="#000" stroke-width="0.9"/>
<line x1="379.5" y1="310.87" x2="379.5" y2="308.17" stroke="#000" stroke-width="0.9"/>
<line x1="381.5" y1="311.3" x2="381.5" y2="308.6" stroke="#000" stroke-width="0.9"/>
<line x1="384" y1="311.84" x2="384" y2="309.14" stroke="#000" stroke-width="0.9"/>
<line x1="399" y1="324.55" x2="399" y2="321.85" stroke="#000" stroke-width="0.9"/>
<line x1="401.5" y1="325.02" x2="401.5" y2="322.32" stroke="#000" stroke-width="0.9"/>
<line x1="404" y1="325.46" x2="404" y2="322.76" stroke="#000" stroke-width="0.9"/>
<line x1="410" y1="326.5" x2="410" y2="323.8" stroke="#000" stroke-width="0.9"/>
<line x1="427" y1="326.5" x2="427" y2="323.8" stroke="#000" stroke-width="0.9"/>
<line x1="429" y1="326.5" x2="429" y2="323.8" stroke="#000" stroke-width="0.9"/>
<line x1="431" y1="326.5" x2="431" y2="323.8" stroke="#000" stroke-width="0.9"/>
<line x1="433" y1="326.5" x2="433" y2="323.8" stroke="#000" stroke-width="0.9"/>
<line x1="437" y1="329.18" x2="437" y2="326.48" stroke="#000" stroke-width="0.9"/>
<line x1="450" y1="333.2" x2="450" y2="330.5" stroke="#000" stroke-width="0.9"/>
<line x1="455" y1="333.2" x2="455" y2="330.5" stroke="#000" stroke-width="0.9"/>
<line x1="459" y1="333.2" x2="459" y2="330.5" stroke="#000" stroke-width="0.9"/>
<line x1="464" y1="333.2" x2="464" y2="330.5" stroke="#000" stroke-width="0.9"/>
<line x1="471" y1="333.2" x2="471" y2="330.5" stroke="#000" stroke-width="0.9"/>
<line x1="476" y1="333.2" x2="476" y2="330.5" stroke="#000" stroke-width="0.9"/>
<line x1="508.5" y1="346.5" x2="508.5" y2="343.8" stroke="#000" stroke-width="0.9"/>
<polyline points="46.3,480.8 54.6,480.6 56.9,481.7 59.2,485.2 62,489.7 64.3,494.3 66,497 68.1,499.6 70.4,503.5 71.9,507.3 75,509.6 78.1,511.9 80.4,515 85,518.1 88.8,521.2 95.8,521.5 98.1,524.2 100.4,528.1 102.7,530.4 124.2,531.2 126.5,533.2 128.8,536.5 129.6,542.7 132.7,544.5 138.8,545.8 141.9,548.8 145,549.2 169.9,549.2 171,555.4 213,555.4 214.1,560.9 215.2,566 219.6,566.5 220.8,576.6 246.2,576.9" fill="none" stroke="#ae1237" stroke-width="1.65" stroke-linejoin="miter" stroke-dasharray="3.4,1.75"/>
<polyline points="46.3,480.8 47.2,485.2 48.9,492 50.6,498.9 51.7,504.6 52.9,510.4 54,513.8 55.7,518.4 56.9,524.1 58.6,528.7 59.2,533.3 60.3,535.6 61.5,540.1 62.6,541.7 64.8,545 65.2,549.5 68.7,549.5 69.5,555.6 79.9,555.6 80.8,557.3 84.2,558.2 85.1,559.9 95.5,559.9 96.3,562 103.3,562 104.1,564.2 105,566.8 107.6,567.7 108.5,569.8 111.9,570.3 112.8,574.6 114.5,576.3 115.4,578.4 118,578.9 118.8,581 124,581.5 124.9,583.6 127.5,584.1 128.4,586.4 138.7,586.4 139.6,589.7 183.8,589.7 183.8,593.7 195.3,593.7" fill="none" stroke="#284480" stroke-width="1.45" stroke-linejoin="miter"/>
<line x1="48" y1="488.7" x2="48" y2="486" stroke="#000" stroke-width="0.9"/>
<line x1="49.5" y1="494.74" x2="49.5" y2="492.04" stroke="#000" stroke-width="0.9"/>
<line x1="51" y1="501.27" x2="51" y2="498.57" stroke="#000" stroke-width="0.9"/>
<line x1="53" y1="511.01" x2="53" y2="508.31" stroke="#000" stroke-width="0.9"/>
<line x1="54" y1="514.1" x2="54" y2="511.4" stroke="#000" stroke-width="0.9"/>
<line x1="56" y1="520.12" x2="56" y2="517.42" stroke="#000" stroke-width="0.9"/>
<line x1="57.5" y1="526.02" x2="57.5" y2="523.32" stroke="#000" stroke-width="0.9"/>
<line x1="67.5" y1="549.8" x2="67.5" y2="547.1" stroke="#000" stroke-width="0.9"/>
<line x1="79" y1="555.9" x2="79" y2="553.2" stroke="#000" stroke-width="0.9"/>
<line x1="84" y1="558.45" x2="84" y2="555.75" stroke="#000" stroke-width="0.9"/>
<line x1="99" y1="562.3" x2="99" y2="559.6" stroke="#000" stroke-width="0.9"/>
<line x1="107" y1="567.79" x2="107" y2="565.09" stroke="#000" stroke-width="0.9"/>
<line x1="141.5" y1="590" x2="141.5" y2="587.3" stroke="#000" stroke-width="0.9"/>
<line x1="142.5" y1="590" x2="142.5" y2="587.3" stroke="#000" stroke-width="0.9"/>
<line x1="153" y1="590" x2="153" y2="587.3" stroke="#000" stroke-width="0.9"/>
<line x1="195" y1="594" x2="195" y2="591.3" stroke="#000" stroke-width="0.9"/>
<line x1="49.5" y1="481.02" x2="49.5" y2="478.32" stroke="#000" stroke-width="0.9"/>
<line x1="50.5" y1="481" x2="50.5" y2="478.3" stroke="#000" stroke-width="0.9"/>
<line x1="51.5" y1="480.97" x2="51.5" y2="478.27" stroke="#000" stroke-width="0.9"/>
<line x1="52.5" y1="480.95" x2="52.5" y2="478.25" stroke="#000" stroke-width="0.9"/>
<line x1="64" y1="494" x2="64" y2="491.3" stroke="#000" stroke-width="0.9"/>
<line x1="65.5" y1="496.51" x2="65.5" y2="493.81" stroke="#000" stroke-width="0.9"/>
<line x1="72" y1="507.67" x2="72" y2="504.97" stroke="#000" stroke-width="0.9"/>
<line x1="74.5" y1="509.53" x2="74.5" y2="506.83" stroke="#000" stroke-width="0.9"/>
<line x1="80" y1="514.76" x2="80" y2="512.06" stroke="#000" stroke-width="0.9"/>
<line x1="83" y1="517.05" x2="83" y2="514.35" stroke="#000" stroke-width="0.9"/>
<line x1="89" y1="521.51" x2="89" y2="518.81" stroke="#000" stroke-width="0.9"/>
<line x1="91" y1="521.59" x2="91" y2="518.89" stroke="#000" stroke-width="0.9"/>
<line x1="94" y1="521.72" x2="94" y2="519.02" stroke="#000" stroke-width="0.9"/>
<line x1="102" y1="530" x2="102" y2="527.3" stroke="#000" stroke-width="0.9"/>
<line x1="107" y1="530.86" x2="107" y2="528.16" stroke="#000" stroke-width="0.9"/>
<line x1="118" y1="531.27" x2="118" y2="528.57" stroke="#000" stroke-width="0.9"/>
<line x1="120" y1="531.34" x2="120" y2="528.64" stroke="#000" stroke-width="0.9"/>
<line x1="122" y1="531.42" x2="122" y2="528.72" stroke="#000" stroke-width="0.9"/>
<line x1="123.5" y1="531.47" x2="123.5" y2="528.77" stroke="#000" stroke-width="0.9"/>
<line x1="139" y1="546.29" x2="139" y2="543.59" stroke="#000" stroke-width="0.9"/>
<line x1="141" y1="548.23" x2="141" y2="545.53" stroke="#000" stroke-width="0.9"/>
<line x1="147" y1="549.5" x2="147" y2="546.8" stroke="#000" stroke-width="0.9"/>
<line x1="148.5" y1="549.5" x2="148.5" y2="546.8" stroke="#000" stroke-width="0.9"/>
<line x1="150" y1="549.5" x2="150" y2="546.8" stroke="#000" stroke-width="0.9"/>
<line x1="156" y1="549.5" x2="156" y2="546.8" stroke="#000" stroke-width="0.9"/>
<line x1="158" y1="549.5" x2="158" y2="546.8" stroke="#000" stroke-width="0.9"/>
<line x1="163" y1="549.5" x2="163" y2="546.8" stroke="#000" stroke-width="0.9"/>
<line x1="164.5" y1="549.5" x2="164.5" y2="546.8" stroke="#000" stroke-width="0.9"/>
<line x1="166" y1="549.5" x2="166" y2="546.8" stroke="#000" stroke-width="0.9"/>
<line x1="185" y1="555.7" x2="185" y2="553" stroke="#000" stroke-width="0.9"/>
<line x1="192" y1="555.7" x2="192" y2="553" stroke="#000" stroke-width="0.9"/>
<line x1="211" y1="555.7" x2="211" y2="553" stroke="#000" stroke-width="0.9"/>
<line x1="223" y1="576.93" x2="223" y2="574.23" stroke="#000" stroke-width="0.9"/>
<line x1="246" y1="577.2" x2="246" y2="574.5" stroke="#000" stroke-width="0.9"/>
<polyline points="308.6,478.8 310.4,482.2 312.2,487 313.4,491.9 314,498.5 317,499.7 319.5,502.7 321.9,507.5 322.5,513.6 326.1,513.6 327.3,518.4 328.5,523.2 330.9,524.4 332.1,532.8 334.5,537.7 336.3,543.7 336.9,548.5 360.4,548.5 361,556.7 366.6,556.7 367.3,565.2 393.1,565.2 393.5,573.1 473,573.1" fill="none" stroke="#ae1237" stroke-width="1.65" stroke-linejoin="miter" stroke-dasharray="3.4,1.75"/>
<polyline points="308.6,478.8 309.8,485.8 311.6,493.1 314,498.5 316.4,500.9 318.9,505.1 320.1,508.1 322.5,511.1 324.3,516 326.7,519.6 329.1,523.8 330.9,525.6 332.7,529.2 336.3,530.4 339.9,531 343.6,534 347.2,536.4 351.4,540.1 355.6,540.7 359.2,542.5 363.5,545.7 371.9,548.3 378.3,552.5 386.7,554.6 391,558.9 393.1,563.1 399.4,564.1 402.2,568.1 433.4,568.1 433.6,571.4 446.7,571.4 446.9,575.4 477.6,575.4 477.9,580.9 483.2,580.9 483.4,586.4 508.4,586.4" fill="none" stroke="#284480" stroke-width="1.45" stroke-linejoin="miter"/>
<line x1="310.5" y1="488.94" x2="310.5" y2="486.24" stroke="#000" stroke-width="0.9"/>
<line x1="312.5" y1="495.43" x2="312.5" y2="492.73" stroke="#000" stroke-width="0.9"/>
<line x1="314.5" y1="499.3" x2="314.5" y2="496.6" stroke="#000" stroke-width="0.9"/>
<line x1="317.5" y1="503.05" x2="317.5" y2="500.35" stroke="#000" stroke-width="0.9"/>
<line x1="319.5" y1="506.9" x2="319.5" y2="504.2" stroke="#000" stroke-width="0.9"/>
<line x1="326" y1="518.85" x2="326" y2="516.15" stroke="#000" stroke-width="0.9"/>
<line x1="330" y1="525" x2="330" y2="522.3" stroke="#000" stroke-width="0.9"/>
<line x1="333.5" y1="529.77" x2="333.5" y2="527.07" stroke="#000" stroke-width="0.9"/>
<line x1="336" y1="530.6" x2="336" y2="527.9" stroke="#000" stroke-width="0.9"/>
<line x1="340" y1="531.38" x2="340" y2="528.68" stroke="#000" stroke-width="0.9"/>
<line x1="343.5" y1="534.22" x2="343.5" y2="531.52" stroke="#000" stroke-width="0.9"/>
<line x1="345.5" y1="535.57" x2="345.5" y2="532.87" stroke="#000" stroke-width="0.9"/>
<line x1="348" y1="537.4" x2="348" y2="534.7" stroke="#000" stroke-width="0.9"/>
<line x1="350" y1="539.17" x2="350" y2="536.47" stroke="#000" stroke-width="0.9"/>
<line x1="352" y1="540.49" x2="352" y2="537.79" stroke="#000" stroke-width="0.9"/>
<line x1="355" y1="540.91" x2="355" y2="538.21" stroke="#000" stroke-width="0.9"/>
<line x1="357" y1="541.7" x2="357" y2="539" stroke="#000" stroke-width="0.9"/>
<line x1="362" y1="544.88" x2="362" y2="542.18" stroke="#000" stroke-width="0.9"/>
<line x1="366" y1="546.77" x2="366" y2="544.07" stroke="#000" stroke-width="0.9"/>
<line x1="368" y1="547.39" x2="368" y2="544.69" stroke="#000" stroke-width="0.9"/>
<line x1="373" y1="549.32" x2="373" y2="546.62" stroke="#000" stroke-width="0.9"/>
<line x1="375" y1="550.63" x2="375" y2="547.93" stroke="#000" stroke-width="0.9"/>
<line x1="377" y1="551.95" x2="377" y2="549.25" stroke="#000" stroke-width="0.9"/>
<line x1="380" y1="553.22" x2="380" y2="550.52" stroke="#000" stroke-width="0.9"/>
<line x1="384" y1="554.23" x2="384" y2="551.53" stroke="#000" stroke-width="0.9"/>
<line x1="386" y1="554.73" x2="386" y2="552.03" stroke="#000" stroke-width="0.9"/>
<line x1="398" y1="564.18" x2="398" y2="561.48" stroke="#000" stroke-width="0.9"/>
<line x1="402" y1="568.11" x2="402" y2="565.41" stroke="#000" stroke-width="0.9"/>
<line x1="404" y1="568.4" x2="404" y2="565.7" stroke="#000" stroke-width="0.9"/>
<line x1="412" y1="568.4" x2="412" y2="565.7" stroke="#000" stroke-width="0.9"/>
<line x1="420" y1="568.4" x2="420" y2="565.7" stroke="#000" stroke-width="0.9"/>
<line x1="426" y1="568.4" x2="426" y2="565.7" stroke="#000" stroke-width="0.9"/>
<line x1="428" y1="568.4" x2="428" y2="565.7" stroke="#000" stroke-width="0.9"/>
<line x1="430" y1="568.4" x2="430" y2="565.7" stroke="#000" stroke-width="0.9"/>
<line x1="432" y1="568.4" x2="432" y2="565.7" stroke="#000" stroke-width="0.9"/>
<line x1="435" y1="571.7" x2="435" y2="569" stroke="#000" stroke-width="0.9"/>
<line x1="450" y1="575.7" x2="450" y2="573" stroke="#000" stroke-width="0.9"/>
<line x1="455" y1="575.7" x2="455" y2="573" stroke="#000" stroke-width="0.9"/>
<line x1="458" y1="575.7" x2="458" y2="573" stroke="#000" stroke-width="0.9"/>
<line x1="468" y1="575.7" x2="468" y2="573" stroke="#000" stroke-width="0.9"/>
<line x1="485" y1="586.7" x2="485" y2="584" stroke="#000" stroke-width="0.9"/>
<line x1="508" y1="586.7" x2="508" y2="584" stroke="#000" stroke-width="0.9"/>
<line x1="315" y1="499.2" x2="315" y2="496.5" stroke="#000" stroke-width="0.9"/>
<line x1="330.5" y1="524.5" x2="330.5" y2="521.8" stroke="#000" stroke-width="0.9"/>
<line x1="349" y1="548.8" x2="349" y2="546.1" stroke="#000" stroke-width="0.9"/>
<line x1="364" y1="557" x2="364" y2="554.3" stroke="#000" stroke-width="0.9"/>
<line x1="405" y1="573.4" x2="405" y2="570.7" stroke="#000" stroke-width="0.9"/>
<line x1="441" y1="573.4" x2="441" y2="570.7" stroke="#000" stroke-width="0.9"/>
<line x1="449" y1="573.4" x2="449" y2="570.7" stroke="#000" stroke-width="0.9"/>
<line x1="473" y1="573.4" x2="473" y2="570.7" stroke="#000" stroke-width="0.9"/>
</g>
<g fill="#1a1a1a" stroke="#1a1a1a" stroke-width="0.14" filter="url(#ident)">
<text x="7.1" y="16.6" font-size="12.5" transform="rotate(0.05 7.1 16.6)" textLength="8.23" lengthAdjust="spacingAndGlyphs" font-weight="bold" fill="#000">A</text>
<text x="35.75" y="155.75" font-size="6.3" transform="rotate(0.05 35.75 155.75)" text-anchor="end">0.00</text>
<text x="35.75" y="121.38" font-size="6.3" transform="rotate(0.05 35.75 121.38)" text-anchor="end">0.25</text>
<text x="35.75" y="87" font-size="6.3" transform="rotate(0.05 35.75 87)" text-anchor="end">0.50</text>
<text x="35.75" y="52.62" font-size="6.3" transform="rotate(0.05 35.75 52.62)" text-anchor="end">0.75</text>
<text x="35.75" y="18.25" font-size="6.3" transform="rotate(0.05 35.75 18.25)" text-anchor="end">1.00</text>
<text x="46.3" y="169.9" font-size="6.3" transform="rotate(0.05 46.3 169.9)" text-anchor="middle">0</text>
<text x="60.29" y="169.9" font-size="6.3" transform="rotate(0.05 60.29 169.9)" text-anchor="middle">12</text>
<text x="74.28" y="169.9" font-size="6.3" transform="rotate(0.05 74.28 169.9)" text-anchor="middle">24</text>
<text x="88.27" y="169.9" font-size="6.3" transform="rotate(0.05 88.27 169.9)" text-anchor="middle">36</text>
<text x="102.26" y="169.9" font-size="6.3" transform="rotate(0.05 102.26 169.9)" text-anchor="middle">48</text>
<text x="116.25" y="169.9" font-size="6.3" transform="rotate(0.05 116.25 169.9)" text-anchor="middle">60</text>
<text x="130.24" y="169.9" font-size="6.3" transform="rotate(0.05 130.24 169.9)" text-anchor="middle">72</text>
<text x="144.23" y="169.9" font-size="6.3" transform="rotate(0.05 144.23 169.9)" text-anchor="middle">84</text>
<text x="158.22" y="169.9" font-size="6.3" transform="rotate(0.05 158.22 169.9)" text-anchor="middle">96</text>
<text x="172.21" y="169.9" font-size="6.3" transform="rotate(0.05 172.21 169.9)" text-anchor="middle">108</text>
<text x="186.2" y="169.9" font-size="6.3" transform="rotate(0.05 186.2 169.9)" text-anchor="middle">120</text>
<text x="200.19" y="169.9" font-size="6.3" transform="rotate(0.05 200.19 169.9)" text-anchor="middle">132</text>
<text x="214.18" y="169.9" font-size="6.3" transform="rotate(0.05 214.18 169.9)" text-anchor="middle">144</text>
<text x="228.17" y="169.9" font-size="6.3" transform="rotate(0.05 228.17 169.9)" text-anchor="middle">156</text>
<text x="242.16" y="169.9" font-size="6.3" transform="rotate(0.05 242.16 169.9)" text-anchor="middle">168</text>
<text x="146.47" y="181.3" font-size="8.2" transform="rotate(0.05 146.47 181.3)" text-anchor="middle" textLength="18.4" lengthAdjust="spacingAndGlyphs" stroke-width="0.32">Months</text>
<text x="0" y="0" font-size="8.7" text-anchor="middle" textLength="38.0" lengthAdjust="spacingAndGlyphs" transform="translate(19.15,84.65) rotate(-90)" stroke-width="0.18">Overall survival</text>
<text x="15.5" y="194" font-size="5.5" transform="rotate(0.05 15.5 194)" textLength="32.6" lengthAdjust="spacingAndGlyphs">Number at risk</text>
<text x="46.3" y="203" font-size="5.5" transform="rotate(0.05 46.3 203)" text-anchor="middle" textLength="8.6" lengthAdjust="spacingAndGlyphs">183</text>
<text x="60.29" y="203" font-size="5.5" transform="rotate(0.05 60.29 203)" text-anchor="middle" textLength="8.6" lengthAdjust="spacingAndGlyphs">113</text>
<text x="74.28" y="203" font-size="5.5" transform="rotate(0.05 74.28 203)" text-anchor="middle" textLength="5.7" lengthAdjust="spacingAndGlyphs">81</text>
<text x="88.27" y="203" font-size="5.5" transform="rotate(0.05 88.27 203)" text-anchor="middle" textLength="5.7" lengthAdjust="spacingAndGlyphs">63</text>
<text x="102.26" y="203" font-size="5.5" transform="rotate(0.05 102.26 203)" text-anchor="middle" textLength="5.7" lengthAdjust="spacingAndGlyphs">52</text>
<text x="116.25" y="203" font-size="5.5" transform="rotate(0.05 116.25 203)" text-anchor="middle" textLength="5.7" lengthAdjust="spacingAndGlyphs">42</text>
<text x="130.24" y="203" font-size="5.5" transform="rotate(0.05 130.24 203)" text-anchor="middle" textLength="5.7" lengthAdjust="spacingAndGlyphs">30</text>
<text x="144.23" y="203" font-size="5.5" transform="rotate(0.05 144.23 203)" text-anchor="middle" textLength="5.7" lengthAdjust="spacingAndGlyphs">19</text>
<text x="158.22" y="203" font-size="5.5" transform="rotate(0.05 158.22 203)" text-anchor="middle" textLength="5.7" lengthAdjust="spacingAndGlyphs">15</text>
<text x="172.21" y="203" font-size="5.5" transform="rotate(0.05 172.21 203)" text-anchor="middle" textLength="2.8" lengthAdjust="spacingAndGlyphs">9</text>
<text x="186.2" y="203" font-size="5.5" transform="rotate(0.05 186.2 203)" text-anchor="middle" textLength="2.8" lengthAdjust="spacingAndGlyphs">7</text>
<text x="200.19" y="203" font-size="5.5" transform="rotate(0.05 200.19 203)" text-anchor="middle" textLength="2.8" lengthAdjust="spacingAndGlyphs">5</text>
<text x="214.18" y="203" font-size="5.5" transform="rotate(0.05 214.18 203)" text-anchor="middle" textLength="2.8" lengthAdjust="spacingAndGlyphs">4</text>
<text x="228.17" y="203" font-size="5.5" transform="rotate(0.05 228.17 203)" text-anchor="middle" textLength="2.8" lengthAdjust="spacingAndGlyphs">1</text>
<text x="242.16" y="203" font-size="5.5" transform="rotate(0.05 242.16 203)" text-anchor="middle" textLength="2.8" lengthAdjust="spacingAndGlyphs">1</text>
<text x="269.6" y="16.9" font-size="12.5" transform="rotate(0.05 269.6 16.9)" textLength="8.23" lengthAdjust="spacingAndGlyphs" font-weight="bold" fill="#000">B</text>
<text x="298.2" y="155.75" font-size="6.3" transform="rotate(0.05 298.2 155.75)" text-anchor="end">0.00</text>
<text x="298.2" y="125.97" font-size="6.3" transform="rotate(0.05 298.2 125.97)" text-anchor="end">0.25</text>
<text x="298.2" y="96.2" font-size="6.3" transform="rotate(0.05 298.2 96.2)" text-anchor="end">0.50</text>
<text x="298.2" y="66.43" font-size="6.3" transform="rotate(0.05 298.2 66.43)" text-anchor="end">0.75</text>
<text x="298.2" y="36.65" font-size="6.3" transform="rotate(0.05 298.2 36.65)" text-anchor="end">1.00</text>
<text x="308.5" y="169.9" font-size="6.3" transform="rotate(0.05 308.5 169.9)" text-anchor="middle">0</text>
<text x="322.49" y="169.9" font-size="6.3" transform="rotate(0.05 322.49 169.9)" text-anchor="middle">12</text>
<text x="336.48" y="169.9" font-size="6.3" transform="rotate(0.05 336.48 169.9)" text-anchor="middle">24</text>
<text x="350.47" y="169.9" font-size="6.3" transform="rotate(0.05 350.47 169.9)" text-anchor="middle">36</text>
<text x="364.46" y="169.9" font-size="6.3" transform="rotate(0.05 364.46 169.9)" text-anchor="middle">48</text>
<text x="378.45" y="169.9" font-size="6.3" transform="rotate(0.05 378.45 169.9)" text-anchor="middle">60</text>
<text x="392.44" y="169.9" font-size="6.3" transform="rotate(0.05 392.44 169.9)" text-anchor="middle">72</text>
<text x="406.43" y="169.9" font-size="6.3" transform="rotate(0.05 406.43 169.9)" text-anchor="middle">84</text>
<text x="420.42" y="169.9" font-size="6.3" transform="rotate(0.05 420.42 169.9)" text-anchor="middle">96</text>
<text x="434.41" y="169.9" font-size="6.3" transform="rotate(0.05 434.41 169.9)" text-anchor="middle">108</text>
<text x="448.4" y="169.9" font-size="6.3" transform="rotate(0.05 448.4 169.9)" text-anchor="middle">120</text>
<text x="462.39" y="169.9" font-size="6.3" transform="rotate(0.05 462.39 169.9)" text-anchor="middle">132</text>
<text x="476.38" y="169.9" font-size="6.3" transform="rotate(0.05 476.38 169.9)" text-anchor="middle">144</text>
<text x="490.37" y="169.9" font-size="6.3" transform="rotate(0.05 490.37 169.9)" text-anchor="middle">156</text>
<text x="504.36" y="169.9" font-size="6.3" transform="rotate(0.05 504.36 169.9)" text-anchor="middle">168</text>
<text x="408.6" y="181.3" font-size="8.2" transform="rotate(0.05 408.6 181.3)" text-anchor="middle" textLength="18.4" lengthAdjust="spacingAndGlyphs" stroke-width="0.32">Months</text>
<text x="0" y="0" font-size="8.7" text-anchor="middle" textLength="38.0" lengthAdjust="spacingAndGlyphs" transform="translate(281.6,93.85) rotate(-90)" stroke-width="0.18">Overall survival</text>
<text x="278" y="193.9" font-size="5.5" transform="rotate(0.05 278 193.9)" textLength="32.6" lengthAdjust="spacingAndGlyphs">Number at risk</text>
<text x="298.6" y="203" font-size="5.5" transform="rotate(0.05 298.6 203)" text-anchor="end" textLength="18.4" lengthAdjust="spacingAndGlyphs">Age&lt;72</text>
<text x="308.5" y="203" font-size="5.5" transform="rotate(0.05 308.5 203)" text-anchor="middle" textLength="8.6" lengthAdjust="spacingAndGlyphs">141</text>
<text x="322.49" y="203" font-size="5.5" transform="rotate(0.05 322.49 203)" text-anchor="middle" textLength="5.7" lengthAdjust="spacingAndGlyphs">97</text>
<text x="336.48" y="203" font-size="5.5" transform="rotate(0.05 336.48 203)" text-anchor="middle" textLength="5.7" lengthAdjust="spacingAndGlyphs">70</text>
<text x="350.47" y="203" font-size="5.5" transform="rotate(0.05 350.47 203)" text-anchor="middle" textLength="5.7" lengthAdjust="spacingAndGlyphs">54</text>
<text x="364.46" y="203" font-size="5.5" transform="rotate(0.05 364.46 203)" text-anchor="middle" textLength="5.7" lengthAdjust="spacingAndGlyphs">45</text>
<text x="378.45" y="203" font-size="5.5" transform="rotate(0.05 378.45 203)" text-anchor="middle" textLength="5.7" lengthAdjust="spacingAndGlyphs">38</text>
<text x="392.44" y="203" font-size="5.5" transform="rotate(0.05 392.44 203)" text-anchor="middle" textLength="5.7" lengthAdjust="spacingAndGlyphs">26</text>
<text x="406.43" y="203" font-size="5.5" transform="rotate(0.05 406.43 203)" text-anchor="middle" textLength="5.7" lengthAdjust="spacingAndGlyphs">16</text>
<text x="420.42" y="203" font-size="5.5" transform="rotate(0.05 420.42 203)" text-anchor="middle" textLength="5.7" lengthAdjust="spacingAndGlyphs">13</text>
<text x="434.41" y="203" font-size="5.5" transform="rotate(0.05 434.41 203)" text-anchor="middle" textLength="2.8" lengthAdjust="spacingAndGlyphs">9</text>
<text x="448.4" y="203" font-size="5.5" transform="rotate(0.05 448.4 203)" text-anchor="middle" textLength="2.8" lengthAdjust="spacingAndGlyphs">7</text>
<text x="462.39" y="203" font-size="5.5" transform="rotate(0.05 462.39 203)" text-anchor="middle" textLength="2.8" lengthAdjust="spacingAndGlyphs">5</text>
<text x="476.38" y="203" font-size="5.5" transform="rotate(0.05 476.38 203)" text-anchor="middle" textLength="2.8" lengthAdjust="spacingAndGlyphs">4</text>
<text x="490.37" y="203" font-size="5.5" transform="rotate(0.05 490.37 203)" text-anchor="middle" textLength="2.8" lengthAdjust="spacingAndGlyphs">1</text>
<text x="504.36" y="203" font-size="5.5" transform="rotate(0.05 504.36 203)" text-anchor="middle" textLength="2.8" lengthAdjust="spacingAndGlyphs">1</text>
<text x="298.6" y="212.2" font-size="5.5" transform="rotate(0.05 298.6 212.2)" text-anchor="end" textLength="18.4" lengthAdjust="spacingAndGlyphs">Age≥72</text>
<text x="308.5" y="212.2" font-size="5.5" transform="rotate(0.05 308.5 212.2)" text-anchor="middle" textLength="5.7" lengthAdjust="spacingAndGlyphs">42</text>
<text x="322.49" y="212.2" font-size="5.5" transform="rotate(0.05 322.49 212.2)" text-anchor="middle" textLength="5.7" lengthAdjust="spacingAndGlyphs">16</text>
<text x="336.48" y="212.2" font-size="5.5" transform="rotate(0.05 336.48 212.2)" text-anchor="middle" textLength="5.7" lengthAdjust="spacingAndGlyphs">11</text>
<text x="350.47" y="212.2" font-size="5.5" transform="rotate(0.05 350.47 212.2)" text-anchor="middle" textLength="2.8" lengthAdjust="spacingAndGlyphs">9</text>
<text x="364.46" y="212.2" font-size="5.5" transform="rotate(0.05 364.46 212.2)" text-anchor="middle" textLength="2.8" lengthAdjust="spacingAndGlyphs">7</text>
<text x="378.45" y="212.2" font-size="5.5" transform="rotate(0.05 378.45 212.2)" text-anchor="middle" textLength="2.8" lengthAdjust="spacingAndGlyphs">4</text>
<text x="392.44" y="212.2" font-size="5.5" transform="rotate(0.05 392.44 212.2)" text-anchor="middle" textLength="2.8" lengthAdjust="spacingAndGlyphs">4</text>
<text x="406.43" y="212.2" font-size="5.5" transform="rotate(0.05 406.43 212.2)" text-anchor="middle" textLength="2.8" lengthAdjust="spacingAndGlyphs">3</text>
<text x="420.42" y="212.2" font-size="5.5" transform="rotate(0.05 420.42 212.2)" text-anchor="middle" textLength="2.8" lengthAdjust="spacingAndGlyphs">2</text>
<text x="434.41" y="212.2" font-size="5.5" transform="rotate(0.05 434.41 212.2)" text-anchor="middle" textLength="2.8" lengthAdjust="spacingAndGlyphs">0</text>
<text x="448.4" y="212.2" font-size="5.5" transform="rotate(0.05 448.4 212.2)" text-anchor="middle" textLength="2.8" lengthAdjust="spacingAndGlyphs">0</text>
<text x="462.39" y="212.2" font-size="5.5" transform="rotate(0.05 462.39 212.2)" text-anchor="middle" textLength="2.8" lengthAdjust="spacingAndGlyphs">0</text>
<text x="476.38" y="212.2" font-size="5.5" transform="rotate(0.05 476.38 212.2)" text-anchor="middle" textLength="2.8" lengthAdjust="spacingAndGlyphs">0</text>
<text x="490.37" y="212.2" font-size="5.5" transform="rotate(0.05 490.37 212.2)" text-anchor="middle" textLength="2.8" lengthAdjust="spacingAndGlyphs">0</text>
<text x="504.36" y="212.2" font-size="5.5" transform="rotate(0.05 504.36 212.2)" text-anchor="middle" textLength="2.8" lengthAdjust="spacingAndGlyphs">0</text>
<text x="7.2" y="238.5" font-size="12.5" transform="rotate(0.05 7.2 238.5)" textLength="8.23" lengthAdjust="spacingAndGlyphs" font-weight="bold" fill="#000">C</text>
<text x="35.75" y="362.65" font-size="6.3" transform="rotate(0.05 35.75 362.65)" text-anchor="end">0.00</text>
<text x="35.75" y="339.3" font-size="6.3" transform="rotate(0.05 35.75 339.3)" text-anchor="end">0.25</text>
<text x="35.75" y="315.95" font-size="6.3" transform="rotate(0.05 35.75 315.95)" text-anchor="end">0.50</text>
<text x="35.75" y="292.6" font-size="6.3" transform="rotate(0.05 35.75 292.6)" text-anchor="end">0.75</text>
<text x="35.75" y="269.25" font-size="6.3" transform="rotate(0.05 35.75 269.25)" text-anchor="end">1.00</text>
<text x="46.4" y="376.65" font-size="6.3" transform="rotate(0.05 46.4 376.65)" text-anchor="middle">0</text>
<text x="60.39" y="376.65" font-size="6.3" transform="rotate(0.05 60.39 376.65)" text-anchor="middle">12</text>
<text x="74.38" y="376.65" font-size="6.3" transform="rotate(0.05 74.38 376.65)" text-anchor="middle">24</text>
<text x="88.37" y="376.65" font-size="6.3" transform="rotate(0.05 88.37 376.65)" text-anchor="middle">36</text>
<text x="102.36" y="376.65" font-size="6.3" transform="rotate(0.05 102.36 376.65)" text-anchor="middle">48</text>
<text x="116.35" y="376.65" font-size="6.3" transform="rotate(0.05 116.35 376.65)" text-anchor="middle">60</text>
<text x="130.34" y="376.65" font-size="6.3" transform="rotate(0.05 130.34 376.65)" text-anchor="middle">72</text>
<text x="144.33" y="376.65" font-size="6.3" transform="rotate(0.05 144.33 376.65)" text-anchor="middle">84</text>
<text x="158.32" y="376.65" font-size="6.3" transform="rotate(0.05 158.32 376.65)" text-anchor="middle">96</text>
<text x="172.31" y="376.65" font-size="6.3" transform="rotate(0.05 172.31 376.65)" text-anchor="middle">108</text>
<text x="186.3" y="376.65" font-size="6.3" transform="rotate(0.05 186.3 376.65)" text-anchor="middle">120</text>
<text x="200.29" y="376.65" font-size="6.3" transform="rotate(0.05 200.29 376.65)" text-anchor="middle">132</text>
<text x="214.28" y="376.65" font-size="6.3" transform="rotate(0.05 214.28 376.65)" text-anchor="middle">144</text>
<text x="228.27" y="376.65" font-size="6.3" transform="rotate(0.05 228.27 376.65)" text-anchor="middle">156</text>
<text x="242.26" y="376.65" font-size="6.3" transform="rotate(0.05 242.26 376.65)" text-anchor="middle">168</text>
<text x="146.47" y="388.05" font-size="8.2" transform="rotate(0.05 146.47 388.05)" text-anchor="middle" textLength="18.4" lengthAdjust="spacingAndGlyphs" stroke-width="0.32">Months</text>
<text x="0" y="0" font-size="8.7" text-anchor="middle" textLength="38.0" lengthAdjust="spacingAndGlyphs" transform="translate(19.15,313.6) rotate(-90)" stroke-width="0.18">Overall survival</text>
<text x="15.5" y="400.75" font-size="5.5" transform="rotate(0.05 15.5 400.75)" textLength="32.6" lengthAdjust="spacingAndGlyphs">Number at risk</text>
<text x="36" y="409.5" font-size="5.5" transform="rotate(0.05 36 409.5)" text-anchor="end" textLength="6.6" lengthAdjust="spacingAndGlyphs">P0</text>
<text x="46.4" y="409.5" font-size="5.5" transform="rotate(0.05 46.4 409.5)" text-anchor="middle" textLength="5.7" lengthAdjust="spacingAndGlyphs">40</text>
<text x="60.39" y="409.5" font-size="5.5" transform="rotate(0.05 60.39 409.5)" text-anchor="middle" textLength="5.7" lengthAdjust="spacingAndGlyphs">27</text>
<text x="74.38" y="409.5" font-size="5.5" transform="rotate(0.05 74.38 409.5)" text-anchor="middle" textLength="5.7" lengthAdjust="spacingAndGlyphs">23</text>
<text x="88.37" y="409.5" font-size="5.5" transform="rotate(0.05 88.37 409.5)" text-anchor="middle" textLength="5.7" lengthAdjust="spacingAndGlyphs">17</text>
<text x="102.36" y="409.5" font-size="5.5" transform="rotate(0.05 102.36 409.5)" text-anchor="middle" textLength="5.7" lengthAdjust="spacingAndGlyphs">16</text>
<text x="116.35" y="409.5" font-size="5.5" transform="rotate(0.05 116.35 409.5)" text-anchor="middle" textLength="5.7" lengthAdjust="spacingAndGlyphs">13</text>
<text x="130.34" y="409.5" font-size="5.5" transform="rotate(0.05 130.34 409.5)" text-anchor="middle" textLength="2.8" lengthAdjust="spacingAndGlyphs">9</text>
<text x="144.33" y="409.5" font-size="5.5" transform="rotate(0.05 144.33 409.5)" text-anchor="middle" textLength="2.8" lengthAdjust="spacingAndGlyphs">4</text>
<text x="158.32" y="409.5" font-size="5.5" transform="rotate(0.05 158.32 409.5)" text-anchor="middle" textLength="2.8" lengthAdjust="spacingAndGlyphs">3</text>
<text x="172.31" y="409.5" font-size="5.5" transform="rotate(0.05 172.31 409.5)" text-anchor="middle" textLength="2.8" lengthAdjust="spacingAndGlyphs">3</text>
<text x="186.3" y="409.5" font-size="5.5" transform="rotate(0.05 186.3 409.5)" text-anchor="middle" textLength="2.8" lengthAdjust="spacingAndGlyphs">2</text>
<text x="200.29" y="409.5" font-size="5.5" transform="rotate(0.05 200.29 409.5)" text-anchor="middle" textLength="2.8" lengthAdjust="spacingAndGlyphs">1</text>
<text x="214.28" y="409.5" font-size="5.5" transform="rotate(0.05 214.28 409.5)" text-anchor="middle" textLength="2.8" lengthAdjust="spacingAndGlyphs">0</text>
<text x="228.27" y="409.5" font-size="5.5" transform="rotate(0.05 228.27 409.5)" text-anchor="middle" textLength="2.8" lengthAdjust="spacingAndGlyphs">0</text>
<text x="242.26" y="409.5" font-size="5.5" transform="rotate(0.05 242.26 409.5)" text-anchor="middle" textLength="2.8" lengthAdjust="spacingAndGlyphs">0</text>
<text x="36" y="418.25" font-size="5.5" transform="rotate(0.05 36 418.25)" text-anchor="end" textLength="6.6" lengthAdjust="spacingAndGlyphs">P1</text>
<text x="46.4" y="418.25" font-size="5.5" transform="rotate(0.05 46.4 418.25)" text-anchor="middle" textLength="8.6" lengthAdjust="spacingAndGlyphs">103</text>
<text x="60.39" y="418.25" font-size="5.5" transform="rotate(0.05 60.39 418.25)" text-anchor="middle" textLength="5.7" lengthAdjust="spacingAndGlyphs">74</text>
<text x="74.38" y="418.25" font-size="5.5" transform="rotate(0.05 74.38 418.25)" text-anchor="middle" textLength="5.7" lengthAdjust="spacingAndGlyphs">51</text>
<text x="88.37" y="418.25" font-size="5.5" transform="rotate(0.05 88.37 418.25)" text-anchor="middle" textLength="5.7" lengthAdjust="spacingAndGlyphs">40</text>
<text x="102.36" y="418.25" font-size="5.5" transform="rotate(0.05 102.36 418.25)" text-anchor="middle" textLength="5.7" lengthAdjust="spacingAndGlyphs">32</text>
<text x="116.35" y="418.25" font-size="5.5" transform="rotate(0.05 116.35 418.25)" text-anchor="middle" textLength="5.7" lengthAdjust="spacingAndGlyphs">25</text>
<text x="130.34" y="418.25" font-size="5.5" transform="rotate(0.05 130.34 418.25)" text-anchor="middle" textLength="5.7" lengthAdjust="spacingAndGlyphs">17</text>
<text x="144.33" y="418.25" font-size="5.5" transform="rotate(0.05 144.33 418.25)" text-anchor="middle" textLength="5.7" lengthAdjust="spacingAndGlyphs">13</text>
<text x="158.32" y="418.25" font-size="5.5" transform="rotate(0.05 158.32 418.25)" text-anchor="middle" textLength="5.7" lengthAdjust="spacingAndGlyphs">10</text>
<text x="172.31" y="418.25" font-size="5.5" transform="rotate(0.05 172.31 418.25)" text-anchor="middle" textLength="2.8" lengthAdjust="spacingAndGlyphs">6</text>
<text x="186.3" y="418.25" font-size="5.5" transform="rotate(0.05 186.3 418.25)" text-anchor="middle" textLength="2.8" lengthAdjust="spacingAndGlyphs">5</text>
<text x="200.29" y="418.25" font-size="5.5" transform="rotate(0.05 200.29 418.25)" text-anchor="middle" textLength="2.8" lengthAdjust="spacingAndGlyphs">4</text>
<text x="214.28" y="418.25" font-size="5.5" transform="rotate(0.05 214.28 418.25)" text-anchor="middle" textLength="2.8" lengthAdjust="spacingAndGlyphs">4</text>
<text x="228.27" y="418.25" font-size="5.5" transform="rotate(0.05 228.27 418.25)" text-anchor="middle" textLength="2.8" lengthAdjust="spacingAndGlyphs">1</text>
<text x="242.26" y="418.25" font-size="5.5" transform="rotate(0.05 242.26 418.25)" text-anchor="middle" textLength="2.8" lengthAdjust="spacingAndGlyphs">1</text>
<text x="36" y="427.1" font-size="5.5" transform="rotate(0.05 36 427.1)" text-anchor="end" textLength="6.6" lengthAdjust="spacingAndGlyphs">P2</text>
<text x="46.4" y="427.1" font-size="5.5" transform="rotate(0.05 46.4 427.1)" text-anchor="middle" textLength="5.7" lengthAdjust="spacingAndGlyphs">27</text>
<text x="60.39" y="427.1" font-size="5.5" transform="rotate(0.05 60.39 427.1)" text-anchor="middle" textLength="2.8" lengthAdjust="spacingAndGlyphs">8</text>
<text x="74.38" y="427.1" font-size="5.5" transform="rotate(0.05 74.38 427.1)" text-anchor="middle" textLength="2.8" lengthAdjust="spacingAndGlyphs">6</text>
<text x="88.37" y="427.1" font-size="5.5" transform="rotate(0.05 88.37 427.1)" text-anchor="middle" textLength="2.8" lengthAdjust="spacingAndGlyphs">5</text>
<text x="102.36" y="427.1" font-size="5.5" transform="rotate(0.05 102.36 427.1)" text-anchor="middle" textLength="2.8" lengthAdjust="spacingAndGlyphs">3</text>
<text x="116.35" y="427.1" font-size="5.5" transform="rotate(0.05 116.35 427.1)" text-anchor="middle" textLength="2.8" lengthAdjust="spacingAndGlyphs">3</text>
<text x="130.34" y="427.1" font-size="5.5" transform="rotate(0.05 130.34 427.1)" text-anchor="middle" textLength="2.8" lengthAdjust="spacingAndGlyphs">3</text>
<text x="144.33" y="427.1" font-size="5.5" transform="rotate(0.05 144.33 427.1)" text-anchor="middle" textLength="2.8" lengthAdjust="spacingAndGlyphs">2</text>
<text x="158.32" y="427.1" font-size="5.5" transform="rotate(0.05 158.32 427.1)" text-anchor="middle" textLength="2.8" lengthAdjust="spacingAndGlyphs">2</text>
<text x="172.31" y="427.1" font-size="5.5" transform="rotate(0.05 172.31 427.1)" text-anchor="middle" textLength="2.8" lengthAdjust="spacingAndGlyphs">0</text>
<text x="186.3" y="427.1" font-size="5.5" transform="rotate(0.05 186.3 427.1)" text-anchor="middle" textLength="2.8" lengthAdjust="spacingAndGlyphs">0</text>
<text x="200.29" y="427.1" font-size="5.5" transform="rotate(0.05 200.29 427.1)" text-anchor="middle" textLength="2.8" lengthAdjust="spacingAndGlyphs">0</text>
<text x="214.28" y="427.1" font-size="5.5" transform="rotate(0.05 214.28 427.1)" text-anchor="middle" textLength="2.8" lengthAdjust="spacingAndGlyphs">0</text>
<text x="228.27" y="427.1" font-size="5.5" transform="rotate(0.05 228.27 427.1)" text-anchor="middle" textLength="2.8" lengthAdjust="spacingAndGlyphs">0</text>
<text x="242.26" y="427.1" font-size="5.5" transform="rotate(0.05 242.26 427.1)" text-anchor="middle" textLength="2.8" lengthAdjust="spacingAndGlyphs">0</text>
<text x="36" y="435.8" font-size="5.5" transform="rotate(0.05 36 435.8)" text-anchor="end" textLength="6.6" lengthAdjust="spacingAndGlyphs">P3</text>
<text x="46.4" y="435.8" font-size="5.5" transform="rotate(0.05 46.4 435.8)" text-anchor="middle" textLength="2.8" lengthAdjust="spacingAndGlyphs">5</text>
<text x="60.39" y="435.8" font-size="5.5" transform="rotate(0.05 60.39 435.8)" text-anchor="middle" textLength="2.8" lengthAdjust="spacingAndGlyphs">2</text>
<text x="74.38" y="435.8" font-size="5.5" transform="rotate(0.05 74.38 435.8)" text-anchor="middle" textLength="2.8" lengthAdjust="spacingAndGlyphs">0</text>
<text x="88.37" y="435.8" font-size="5.5" transform="rotate(0.05 88.37 435.8)" text-anchor="middle" textLength="2.8" lengthAdjust="spacingAndGlyphs">0</text>
<text x="102.36" y="435.8" font-size="5.5" transform="rotate(0.05 102.36 435.8)" text-anchor="middle" textLength="2.8" lengthAdjust="spacingAndGlyphs">0</text>
<text x="116.35" y="435.8" font-size="5.5" transform="rotate(0.05 116.35 435.8)" text-anchor="middle" textLength="2.8" lengthAdjust="spacingAndGlyphs">0</text>
<text x="130.34" y="435.8" font-size="5.5" transform="rotate(0.05 130.34 435.8)" text-anchor="middle" textLength="2.8" lengthAdjust="spacingAndGlyphs">0</text>
<text x="144.33" y="435.8" font-size="5.5" transform="rotate(0.05 144.33 435.8)" text-anchor="middle" textLength="2.8" lengthAdjust="spacingAndGlyphs">0</text>
<text x="158.32" y="435.8" font-size="5.5" transform="rotate(0.05 158.32 435.8)" text-anchor="middle" textLength="2.8" lengthAdjust="spacingAndGlyphs">0</text>
<text x="172.31" y="435.8" font-size="5.5" transform="rotate(0.05 172.31 435.8)" text-anchor="middle" textLength="2.8" lengthAdjust="spacingAndGlyphs">0</text>
<text x="186.3" y="435.8" font-size="5.5" transform="rotate(0.05 186.3 435.8)" text-anchor="middle" textLength="2.8" lengthAdjust="spacingAndGlyphs">0</text>
<text x="200.29" y="435.8" font-size="5.5" transform="rotate(0.05 200.29 435.8)" text-anchor="middle" textLength="2.8" lengthAdjust="spacingAndGlyphs">0</text>
<text x="214.28" y="435.8" font-size="5.5" transform="rotate(0.05 214.28 435.8)" text-anchor="middle" textLength="2.8" lengthAdjust="spacingAndGlyphs">0</text>
<text x="228.27" y="435.8" font-size="5.5" transform="rotate(0.05 228.27 435.8)" text-anchor="middle" textLength="2.8" lengthAdjust="spacingAndGlyphs">0</text>
<text x="242.26" y="435.8" font-size="5.5" transform="rotate(0.05 242.26 435.8)" text-anchor="middle" textLength="2.8" lengthAdjust="spacingAndGlyphs">0</text>
<text x="36" y="444.5" font-size="5.5" transform="rotate(0.05 36 444.5)" text-anchor="end" textLength="6.6" lengthAdjust="spacingAndGlyphs">P4</text>
<text x="46.4" y="444.5" font-size="5.5" transform="rotate(0.05 46.4 444.5)" text-anchor="middle" textLength="2.8" lengthAdjust="spacingAndGlyphs">6</text>
<text x="60.39" y="444.5" font-size="5.5" transform="rotate(0.05 60.39 444.5)" text-anchor="middle" textLength="2.8" lengthAdjust="spacingAndGlyphs">0</text>
<text x="74.38" y="444.5" font-size="5.5" transform="rotate(0.05 74.38 444.5)" text-anchor="middle" textLength="2.8" lengthAdjust="spacingAndGlyphs">0</text>
<text x="88.37" y="444.5" font-size="5.5" transform="rotate(0.05 88.37 444.5)" text-anchor="middle" textLength="2.8" lengthAdjust="spacingAndGlyphs">0</text>
<text x="102.36" y="444.5" font-size="5.5" transform="rotate(0.05 102.36 444.5)" text-anchor="middle" textLength="2.8" lengthAdjust="spacingAndGlyphs">0</text>
<text x="116.35" y="444.5" font-size="5.5" transform="rotate(0.05 116.35 444.5)" text-anchor="middle" textLength="2.8" lengthAdjust="spacingAndGlyphs">0</text>
<text x="130.34" y="444.5" font-size="5.5" transform="rotate(0.05 130.34 444.5)" text-anchor="middle" textLength="2.8" lengthAdjust="spacingAndGlyphs">0</text>
<text x="144.33" y="444.5" font-size="5.5" transform="rotate(0.05 144.33 444.5)" text-anchor="middle" textLength="2.8" lengthAdjust="spacingAndGlyphs">0</text>
<text x="158.32" y="444.5" font-size="5.5" transform="rotate(0.05 158.32 444.5)" text-anchor="middle" textLength="2.8" lengthAdjust="spacingAndGlyphs">0</text>
<text x="172.31" y="444.5" font-size="5.5" transform="rotate(0.05 172.31 444.5)" text-anchor="middle" textLength="2.8" lengthAdjust="spacingAndGlyphs">0</text>
<text x="186.3" y="444.5" font-size="5.5" transform="rotate(0.05 186.3 444.5)" text-anchor="middle" textLength="2.8" lengthAdjust="spacingAndGlyphs">0</text>
<text x="200.29" y="444.5" font-size="5.5" transform="rotate(0.05 200.29 444.5)" text-anchor="middle" textLength="2.8" lengthAdjust="spacingAndGlyphs">0</text>
<text x="214.28" y="444.5" font-size="5.5" transform="rotate(0.05 214.28 444.5)" text-anchor="middle" textLength="2.8" lengthAdjust="spacingAndGlyphs">0</text>
<text x="228.27" y="444.5" font-size="5.5" transform="rotate(0.05 228.27 444.5)" text-anchor="middle" textLength="2.8" lengthAdjust="spacingAndGlyphs">0</text>
<text x="242.26" y="444.5" font-size="5.5" transform="rotate(0.05 242.26 444.5)" text-anchor="middle" textLength="2.8" lengthAdjust="spacingAndGlyphs">0</text>
<text x="270" y="238.2" font-size="12.5" transform="rotate(0.05 270 238.2)" textLength="8.23" lengthAdjust="spacingAndGlyphs" font-weight="bold" fill="#000">D</text>
<text x="298.3" y="362.15" font-size="6.3" transform="rotate(0.05 298.3 362.15)" text-anchor="end">0.00</text>
<text x="298.3" y="332.65" font-size="6.3" transform="rotate(0.05 298.3 332.65)" text-anchor="end">0.25</text>
<text x="298.3" y="303.15" font-size="6.3" transform="rotate(0.05 298.3 303.15)" text-anchor="end">0.50</text>
<text x="298.3" y="273.65" font-size="6.3" transform="rotate(0.05 298.3 273.65)" text-anchor="end">0.75</text>
<text x="298.3" y="244.15" font-size="6.3" transform="rotate(0.05 298.3 244.15)" text-anchor="end">1.00</text>
<text x="308.8" y="376.85" font-size="6.3" transform="rotate(0.05 308.8 376.85)" text-anchor="middle">0</text>
<text x="322.79" y="376.85" font-size="6.3" transform="rotate(0.05 322.79 376.85)" text-anchor="middle">12</text>
<text x="336.78" y="376.85" font-size="6.3" transform="rotate(0.05 336.78 376.85)" text-anchor="middle">24</text>
<text x="350.77" y="376.85" font-size="6.3" transform="rotate(0.05 350.77 376.85)" text-anchor="middle">36</text>
<text x="364.76" y="376.85" font-size="6.3" transform="rotate(0.05 364.76 376.85)" text-anchor="middle">48</text>
<text x="378.75" y="376.85" font-size="6.3" transform="rotate(0.05 378.75 376.85)" text-anchor="middle">60</text>
<text x="392.74" y="376.85" font-size="6.3" transform="rotate(0.05 392.74 376.85)" text-anchor="middle">72</text>
<text x="406.73" y="376.85" font-size="6.3" transform="rotate(0.05 406.73 376.85)" text-anchor="middle">84</text>
<text x="420.72" y="376.85" font-size="6.3" transform="rotate(0.05 420.72 376.85)" text-anchor="middle">96</text>
<text x="434.71" y="376.85" font-size="6.3" transform="rotate(0.05 434.71 376.85)" text-anchor="middle">108</text>
<text x="448.7" y="376.85" font-size="6.3" transform="rotate(0.05 448.7 376.85)" text-anchor="middle">120</text>
<text x="462.69" y="376.85" font-size="6.3" transform="rotate(0.05 462.69 376.85)" text-anchor="middle">132</text>
<text x="476.68" y="376.85" font-size="6.3" transform="rotate(0.05 476.68 376.85)" text-anchor="middle">144</text>
<text x="490.67" y="376.85" font-size="6.3" transform="rotate(0.05 490.67 376.85)" text-anchor="middle">156</text>
<text x="504.66" y="376.85" font-size="6.3" transform="rotate(0.05 504.66 376.85)" text-anchor="middle">168</text>
<text x="408.75" y="388.25" font-size="8.2" transform="rotate(0.05 408.75 388.25)" text-anchor="middle" textLength="18.4" lengthAdjust="spacingAndGlyphs" stroke-width="0.32">Months</text>
<text x="0" y="0" font-size="8.7" text-anchor="middle" textLength="38.0" lengthAdjust="spacingAndGlyphs" transform="translate(281.7,300.8) rotate(-90)" stroke-width="0.18">Overall survival</text>
<text x="278" y="401" font-size="5.5" transform="rotate(0.05 278 401)" textLength="32.6" lengthAdjust="spacingAndGlyphs">Number at risk</text>
<text x="293.2" y="409.9" font-size="5.5" transform="rotate(0.05 293.2 409.9)" text-anchor="end" textLength="7" lengthAdjust="spacingAndGlyphs">No</text>
<text x="308.8" y="409.9" font-size="5.5" transform="rotate(0.05 308.8 409.9)" text-anchor="middle" textLength="5.7" lengthAdjust="spacingAndGlyphs">17</text>
<text x="322.79" y="409.9" font-size="5.5" transform="rotate(0.05 322.79 409.9)" text-anchor="middle" textLength="2.8" lengthAdjust="spacingAndGlyphs">5</text>
<text x="336.78" y="409.9" font-size="5.5" transform="rotate(0.05 336.78 409.9)" text-anchor="middle" textLength="2.8" lengthAdjust="spacingAndGlyphs">2</text>
<text x="350.77" y="409.9" font-size="5.5" transform="rotate(0.05 350.77 409.9)" text-anchor="middle" textLength="2.8" lengthAdjust="spacingAndGlyphs">1</text>
<text x="364.76" y="409.9" font-size="5.5" transform="rotate(0.05 364.76 409.9)" text-anchor="middle" textLength="2.8" lengthAdjust="spacingAndGlyphs">0</text>
<text x="378.75" y="409.9" font-size="5.5" transform="rotate(0.05 378.75 409.9)" text-anchor="middle" textLength="2.8" lengthAdjust="spacingAndGlyphs">0</text>
<text x="392.74" y="409.9" font-size="5.5" transform="rotate(0.05 392.74 409.9)" text-anchor="middle" textLength="2.8" lengthAdjust="spacingAndGlyphs">0</text>
<text x="406.73" y="409.9" font-size="5.5" transform="rotate(0.05 406.73 409.9)" text-anchor="middle" textLength="2.8" lengthAdjust="spacingAndGlyphs">0</text>
<text x="420.72" y="409.9" font-size="5.5" transform="rotate(0.05 420.72 409.9)" text-anchor="middle" textLength="2.8" lengthAdjust="spacingAndGlyphs">0</text>
<text x="434.71" y="409.9" font-size="5.5" transform="rotate(0.05 434.71 409.9)" text-anchor="middle" textLength="2.8" lengthAdjust="spacingAndGlyphs">0</text>
<text x="448.7" y="409.9" font-size="5.5" transform="rotate(0.05 448.7 409.9)" text-anchor="middle" textLength="2.8" lengthAdjust="spacingAndGlyphs">0</text>
<text x="462.69" y="409.9" font-size="5.5" transform="rotate(0.05 462.69 409.9)" text-anchor="middle" textLength="2.8" lengthAdjust="spacingAndGlyphs">0</text>
<text x="476.68" y="409.9" font-size="5.5" transform="rotate(0.05 476.68 409.9)" text-anchor="middle" textLength="2.8" lengthAdjust="spacingAndGlyphs">0</text>
<text x="490.67" y="409.9" font-size="5.5" transform="rotate(0.05 490.67 409.9)" text-anchor="middle" textLength="2.8" lengthAdjust="spacingAndGlyphs">0</text>
<text x="504.66" y="409.9" font-size="5.5" transform="rotate(0.05 504.66 409.9)" text-anchor="middle" textLength="2.8" lengthAdjust="spacingAndGlyphs">0</text>
<text x="293.2" y="418.5" font-size="5.5" transform="rotate(0.05 293.2 418.5)" text-anchor="end" textLength="8.9" lengthAdjust="spacingAndGlyphs">Yes</text>
<text x="308.8" y="418.5" font-size="5.5" transform="rotate(0.05 308.8 418.5)" text-anchor="middle" textLength="8.6" lengthAdjust="spacingAndGlyphs">161</text>
<text x="322.79" y="418.5" font-size="5.5" transform="rotate(0.05 322.79 418.5)" text-anchor="middle" textLength="8.6" lengthAdjust="spacingAndGlyphs">105</text>
<text x="336.78" y="418.5" font-size="5.5" transform="rotate(0.05 336.78 418.5)" text-anchor="middle" textLength="5.7" lengthAdjust="spacingAndGlyphs">77</text>
<text x="350.77" y="418.5" font-size="5.5" transform="rotate(0.05 350.77 418.5)" text-anchor="middle" textLength="5.7" lengthAdjust="spacingAndGlyphs">60</text>
<text x="364.76" y="418.5" font-size="5.5" transform="rotate(0.05 364.76 418.5)" text-anchor="middle" textLength="5.7" lengthAdjust="spacingAndGlyphs">50</text>
<text x="378.75" y="418.5" font-size="5.5" transform="rotate(0.05 378.75 418.5)" text-anchor="middle" textLength="5.7" lengthAdjust="spacingAndGlyphs">41</text>
<text x="392.74" y="418.5" font-size="5.5" transform="rotate(0.05 392.74 418.5)" text-anchor="middle" textLength="5.7" lengthAdjust="spacingAndGlyphs">29</text>
<text x="406.73" y="418.5" font-size="5.5" transform="rotate(0.05 406.73 418.5)" text-anchor="middle" textLength="5.7" lengthAdjust="spacingAndGlyphs">19</text>
<text x="420.72" y="418.5" font-size="5.5" transform="rotate(0.05 420.72 418.5)" text-anchor="middle" textLength="5.7" lengthAdjust="spacingAndGlyphs">15</text>
<text x="434.71" y="418.5" font-size="5.5" transform="rotate(0.05 434.71 418.5)" text-anchor="middle" textLength="2.8" lengthAdjust="spacingAndGlyphs">9</text>
<text x="448.7" y="418.5" font-size="5.5" transform="rotate(0.05 448.7 418.5)" text-anchor="middle" textLength="2.8" lengthAdjust="spacingAndGlyphs">7</text>
<text x="462.69" y="418.5" font-size="5.5" transform="rotate(0.05 462.69 418.5)" text-anchor="middle" textLength="2.8" lengthAdjust="spacingAndGlyphs">5</text>
<text x="476.68" y="418.5" font-size="5.5" transform="rotate(0.05 476.68 418.5)" text-anchor="middle" textLength="2.8" lengthAdjust="spacingAndGlyphs">4</text>
<text x="490.67" y="418.5" font-size="5.5" transform="rotate(0.05 490.67 418.5)" text-anchor="middle" textLength="2.8" lengthAdjust="spacingAndGlyphs">1</text>
<text x="504.66" y="418.5" font-size="5.5" transform="rotate(0.05 504.66 418.5)" text-anchor="middle" textLength="2.8" lengthAdjust="spacingAndGlyphs">1</text>
<text x="7.3" y="470.8" font-size="12.5" transform="rotate(0.05 7.3 470.8)" textLength="7.6" lengthAdjust="spacingAndGlyphs" font-weight="bold" fill="#000">E</text>
<text x="35.3" y="600.15" font-size="6.3" transform="rotate(0.05 35.3 600.15)" text-anchor="end">0.00</text>
<text x="35.3" y="570.85" font-size="6.3" transform="rotate(0.05 35.3 570.85)" text-anchor="end">0.25</text>
<text x="35.3" y="541.55" font-size="6.3" transform="rotate(0.05 35.3 541.55)" text-anchor="end">0.50</text>
<text x="35.3" y="512.25" font-size="6.3" transform="rotate(0.05 35.3 512.25)" text-anchor="end">0.75</text>
<text x="35.3" y="482.95" font-size="6.3" transform="rotate(0.05 35.3 482.95)" text-anchor="end">1.00</text>
<text x="46.3" y="614.3" font-size="6.3" transform="rotate(0.05 46.3 614.3)" text-anchor="middle">0</text>
<text x="60.29" y="614.3" font-size="6.3" transform="rotate(0.05 60.29 614.3)" text-anchor="middle">12</text>
<text x="74.28" y="614.3" font-size="6.3" transform="rotate(0.05 74.28 614.3)" text-anchor="middle">24</text>
<text x="88.27" y="614.3" font-size="6.3" transform="rotate(0.05 88.27 614.3)" text-anchor="middle">36</text>
<text x="102.26" y="614.3" font-size="6.3" transform="rotate(0.05 102.26 614.3)" text-anchor="middle">48</text>
<text x="116.25" y="614.3" font-size="6.3" transform="rotate(0.05 116.25 614.3)" text-anchor="middle">60</text>
<text x="130.24" y="614.3" font-size="6.3" transform="rotate(0.05 130.24 614.3)" text-anchor="middle">72</text>
<text x="144.23" y="614.3" font-size="6.3" transform="rotate(0.05 144.23 614.3)" text-anchor="middle">84</text>
<text x="158.22" y="614.3" font-size="6.3" transform="rotate(0.05 158.22 614.3)" text-anchor="middle">96</text>
<text x="172.21" y="614.3" font-size="6.3" transform="rotate(0.05 172.21 614.3)" text-anchor="middle">108</text>
<text x="186.2" y="614.3" font-size="6.3" transform="rotate(0.05 186.2 614.3)" text-anchor="middle">120</text>
<text x="200.19" y="614.3" font-size="6.3" transform="rotate(0.05 200.19 614.3)" text-anchor="middle">132</text>
<text x="214.18" y="614.3" font-size="6.3" transform="rotate(0.05 214.18 614.3)" text-anchor="middle">144</text>
<text x="228.17" y="614.3" font-size="6.3" transform="rotate(0.05 228.17 614.3)" text-anchor="middle">156</text>
<text x="242.16" y="614.3" font-size="6.3" transform="rotate(0.05 242.16 614.3)" text-anchor="middle">168</text>
<text x="146.25" y="625.7" font-size="8.2" transform="rotate(0.05 146.25 625.7)" text-anchor="middle" textLength="18.4" lengthAdjust="spacingAndGlyphs" stroke-width="0.32">Months</text>
<text x="0" y="0" font-size="8.7" text-anchor="middle" textLength="38.0" lengthAdjust="spacingAndGlyphs" transform="translate(18.7,539.2) rotate(-90)" stroke-width="0.18">Overall survival</text>
<text x="15.3" y="638.7" font-size="5.5" transform="rotate(0.05 15.3 638.7)" textLength="32.6" lengthAdjust="spacingAndGlyphs">Number at risk</text>
<text x="34.3" y="647.1" font-size="5.5" transform="rotate(0.05 34.3 647.1)" text-anchor="end" textLength="7" lengthAdjust="spacingAndGlyphs">No</text>
<text x="46.3" y="647.1" font-size="5.5" transform="rotate(0.05 46.3 647.1)" text-anchor="middle" textLength="5.7" lengthAdjust="spacingAndGlyphs">72</text>
<text x="60.29" y="647.1" font-size="5.5" transform="rotate(0.05 60.29 647.1)" text-anchor="middle" textLength="5.7" lengthAdjust="spacingAndGlyphs">32</text>
<text x="74.28" y="647.1" font-size="5.5" transform="rotate(0.05 74.28 647.1)" text-anchor="middle" textLength="5.7" lengthAdjust="spacingAndGlyphs">20</text>
<text x="88.27" y="647.1" font-size="5.5" transform="rotate(0.05 88.27 647.1)" text-anchor="middle" textLength="5.7" lengthAdjust="spacingAndGlyphs">15</text>
<text x="102.26" y="647.1" font-size="5.5" transform="rotate(0.05 102.26 647.1)" text-anchor="middle" textLength="5.7" lengthAdjust="spacingAndGlyphs">14</text>
<text x="116.25" y="647.1" font-size="5.5" transform="rotate(0.05 116.25 647.1)" text-anchor="middle" textLength="2.8" lengthAdjust="spacingAndGlyphs">7</text>
<text x="130.24" y="647.1" font-size="5.5" transform="rotate(0.05 130.24 647.1)" text-anchor="middle" textLength="2.8" lengthAdjust="spacingAndGlyphs">4</text>
<text x="144.23" y="647.1" font-size="5.5" transform="rotate(0.05 144.23 647.1)" text-anchor="middle" textLength="2.8" lengthAdjust="spacingAndGlyphs">2</text>
<text x="158.22" y="647.1" font-size="5.5" transform="rotate(0.05 158.22 647.1)" text-anchor="middle" textLength="2.8" lengthAdjust="spacingAndGlyphs">2</text>
<text x="172.21" y="647.1" font-size="5.5" transform="rotate(0.05 172.21 647.1)" text-anchor="middle" textLength="2.8" lengthAdjust="spacingAndGlyphs">2</text>
<text x="186.2" y="647.1" font-size="5.5" transform="rotate(0.05 186.2 647.1)" text-anchor="middle" textLength="2.8" lengthAdjust="spacingAndGlyphs">1</text>
<text x="200.19" y="647.1" font-size="5.5" transform="rotate(0.05 200.19 647.1)" text-anchor="middle" textLength="2.8" lengthAdjust="spacingAndGlyphs">0</text>
<text x="214.18" y="647.1" font-size="5.5" transform="rotate(0.05 214.18 647.1)" text-anchor="middle" textLength="2.8" lengthAdjust="spacingAndGlyphs">0</text>
<text x="228.17" y="647.1" font-size="5.5" transform="rotate(0.05 228.17 647.1)" text-anchor="middle" textLength="2.8" lengthAdjust="spacingAndGlyphs">0</text>
<text x="242.16" y="647.1" font-size="5.5" transform="rotate(0.05 242.16 647.1)" text-anchor="middle" textLength="2.8" lengthAdjust="spacingAndGlyphs">0</text>
<text x="34.3" y="655.4" font-size="5.5" transform="rotate(0.05 34.3 655.4)" text-anchor="end" textLength="8.6" lengthAdjust="spacingAndGlyphs">Yes</text>
<text x="46.3" y="655.4" font-size="5.5" transform="rotate(0.05 46.3 655.4)" text-anchor="middle" textLength="5.7" lengthAdjust="spacingAndGlyphs">90</text>
<text x="60.29" y="655.4" font-size="5.5" transform="rotate(0.05 60.29 655.4)" text-anchor="middle" textLength="5.7" lengthAdjust="spacingAndGlyphs">79</text>
<text x="74.28" y="655.4" font-size="5.5" transform="rotate(0.05 74.28 655.4)" text-anchor="middle" textLength="5.7" lengthAdjust="spacingAndGlyphs">60</text>
<text x="88.27" y="655.4" font-size="5.5" transform="rotate(0.05 88.27 655.4)" text-anchor="middle" textLength="5.7" lengthAdjust="spacingAndGlyphs">47</text>
<text x="102.26" y="655.4" font-size="5.5" transform="rotate(0.05 102.26 655.4)" text-anchor="middle" textLength="5.7" lengthAdjust="spacingAndGlyphs">38</text>
<text x="116.25" y="655.4" font-size="5.5" transform="rotate(0.05 116.25 655.4)" text-anchor="middle" textLength="5.7" lengthAdjust="spacingAndGlyphs">35</text>
<text x="130.24" y="655.4" font-size="5.5" transform="rotate(0.05 130.24 655.4)" text-anchor="middle" textLength="5.7" lengthAdjust="spacingAndGlyphs">26</text>
<text x="144.23" y="655.4" font-size="5.5" transform="rotate(0.05 144.23 655.4)" text-anchor="middle" textLength="5.7" lengthAdjust="spacingAndGlyphs">17</text>
<text x="158.22" y="655.4" font-size="5.5" transform="rotate(0.05 158.22 655.4)" text-anchor="middle" textLength="5.7" lengthAdjust="spacingAndGlyphs">13</text>
<text x="172.21" y="655.4" font-size="5.5" transform="rotate(0.05 172.21 655.4)" text-anchor="middle" textLength="2.8" lengthAdjust="spacingAndGlyphs">7</text>
<text x="186.2" y="655.4" font-size="5.5" transform="rotate(0.05 186.2 655.4)" text-anchor="middle" textLength="2.8" lengthAdjust="spacingAndGlyphs">6</text>
<text x="200.19" y="655.4" font-size="5.5" transform="rotate(0.05 200.19 655.4)" text-anchor="middle" textLength="2.8" lengthAdjust="spacingAndGlyphs">5</text>
<text x="214.18" y="655.4" font-size="5.5" transform="rotate(0.05 214.18 655.4)" text-anchor="middle" textLength="2.8" lengthAdjust="spacingAndGlyphs">4</text>
<text x="228.17" y="655.4" font-size="5.5" transform="rotate(0.05 228.17 655.4)" text-anchor="middle" textLength="2.8" lengthAdjust="spacingAndGlyphs">1</text>
<text x="242.16" y="655.4" font-size="5.5" transform="rotate(0.05 242.16 655.4)" text-anchor="middle" textLength="2.8" lengthAdjust="spacingAndGlyphs">1</text>
<text x="270" y="470.8" font-size="12.5" transform="rotate(0.05 270 470.8)" textLength="6.97" lengthAdjust="spacingAndGlyphs" font-weight="bold" fill="#000">F</text>
<text x="298.25" y="600.15" font-size="6.3" transform="rotate(0.05 298.25 600.15)" text-anchor="end">0.00</text>
<text x="298.25" y="570.33" font-size="6.3" transform="rotate(0.05 298.25 570.33)" text-anchor="end">0.25</text>
<text x="298.25" y="540.5" font-size="6.3" transform="rotate(0.05 298.25 540.5)" text-anchor="end">0.50</text>
<text x="298.25" y="510.68" font-size="6.3" transform="rotate(0.05 298.25 510.68)" text-anchor="end">0.75</text>
<text x="298.25" y="480.85" font-size="6.3" transform="rotate(0.05 298.25 480.85)" text-anchor="end">1.00</text>
<text x="308.5" y="614.3" font-size="6.3" transform="rotate(0.05 308.5 614.3)" text-anchor="middle">0</text>
<text x="322.49" y="614.3" font-size="6.3" transform="rotate(0.05 322.49 614.3)" text-anchor="middle">12</text>
<text x="336.48" y="614.3" font-size="6.3" transform="rotate(0.05 336.48 614.3)" text-anchor="middle">24</text>
<text x="350.47" y="614.3" font-size="6.3" transform="rotate(0.05 350.47 614.3)" text-anchor="middle">36</text>
<text x="364.46" y="614.3" font-size="6.3" transform="rotate(0.05 364.46 614.3)" text-anchor="middle">48</text>
<text x="378.45" y="614.3" font-size="6.3" transform="rotate(0.05 378.45 614.3)" text-anchor="middle">60</text>
<text x="392.44" y="614.3" font-size="6.3" transform="rotate(0.05 392.44 614.3)" text-anchor="middle">72</text>
<text x="406.43" y="614.3" font-size="6.3" transform="rotate(0.05 406.43 614.3)" text-anchor="middle">84</text>
<text x="420.42" y="614.3" font-size="6.3" transform="rotate(0.05 420.42 614.3)" text-anchor="middle">96</text>
<text x="434.41" y="614.3" font-size="6.3" transform="rotate(0.05 434.41 614.3)" text-anchor="middle">108</text>
<text x="448.4" y="614.3" font-size="6.3" transform="rotate(0.05 448.4 614.3)" text-anchor="middle">120</text>
<text x="462.39" y="614.3" font-size="6.3" transform="rotate(0.05 462.39 614.3)" text-anchor="middle">132</text>
<text x="476.38" y="614.3" font-size="6.3" transform="rotate(0.05 476.38 614.3)" text-anchor="middle">144</text>
<text x="490.37" y="614.3" font-size="6.3" transform="rotate(0.05 490.37 614.3)" text-anchor="middle">156</text>
<text x="504.36" y="614.3" font-size="6.3" transform="rotate(0.05 504.36 614.3)" text-anchor="middle">168</text>
<text x="408.73" y="625.7" font-size="8.2" transform="rotate(0.05 408.73 625.7)" text-anchor="middle" textLength="18.4" lengthAdjust="spacingAndGlyphs" stroke-width="0.32">Months</text>
<text x="0" y="0" font-size="8.7" text-anchor="middle" textLength="38.0" lengthAdjust="spacingAndGlyphs" transform="translate(281.65,538.15) rotate(-90)" stroke-width="0.18">Overall survival</text>
<text x="268.9" y="638.7" font-size="5.5" transform="rotate(0.05 268.9 638.7)" textLength="32.6" lengthAdjust="spacingAndGlyphs">Number at risk</text>
<text x="301" y="647.1" font-size="5.5" transform="rotate(0.05 301 647.1)" text-anchor="end" textLength="18" lengthAdjust="spacingAndGlyphs">Blastoid</text>
<text x="308.5" y="647.1" font-size="5.5" transform="rotate(0.05 308.5 647.1)" text-anchor="middle" textLength="8.6" lengthAdjust="spacingAndGlyphs">152</text>
<text x="322.49" y="647.1" font-size="5.5" transform="rotate(0.05 322.49 647.1)" text-anchor="middle" textLength="5.7" lengthAdjust="spacingAndGlyphs">95</text>
<text x="336.48" y="647.1" font-size="5.5" transform="rotate(0.05 336.48 647.1)" text-anchor="middle" textLength="5.7" lengthAdjust="spacingAndGlyphs">73</text>
<text x="350.47" y="647.1" font-size="5.5" transform="rotate(0.05 350.47 647.1)" text-anchor="middle" textLength="5.7" lengthAdjust="spacingAndGlyphs">57</text>
<text x="364.46" y="647.1" font-size="5.5" transform="rotate(0.05 364.46 647.1)" text-anchor="middle" textLength="5.7" lengthAdjust="spacingAndGlyphs">47</text>
<text x="378.45" y="647.1" font-size="5.5" transform="rotate(0.05 378.45 647.1)" text-anchor="middle" textLength="5.7" lengthAdjust="spacingAndGlyphs">38</text>
<text x="392.44" y="647.1" font-size="5.5" transform="rotate(0.05 392.44 647.1)" text-anchor="middle" textLength="5.7" lengthAdjust="spacingAndGlyphs">26</text>
<text x="406.43" y="647.1" font-size="5.5" transform="rotate(0.05 406.43 647.1)" text-anchor="middle" textLength="5.7" lengthAdjust="spacingAndGlyphs">18</text>
<text x="420.42" y="647.1" font-size="5.5" transform="rotate(0.05 420.42 647.1)" text-anchor="middle" textLength="5.7" lengthAdjust="spacingAndGlyphs">14</text>
<text x="434.41" y="647.1" font-size="5.5" transform="rotate(0.05 434.41 647.1)" text-anchor="middle" textLength="2.8" lengthAdjust="spacingAndGlyphs">8</text>
<text x="448.4" y="647.1" font-size="5.5" transform="rotate(0.05 448.4 647.1)" text-anchor="middle" textLength="2.8" lengthAdjust="spacingAndGlyphs">6</text>
<text x="462.39" y="647.1" font-size="5.5" transform="rotate(0.05 462.39 647.1)" text-anchor="middle" textLength="2.8" lengthAdjust="spacingAndGlyphs">4</text>
<text x="476.38" y="647.1" font-size="5.5" transform="rotate(0.05 476.38 647.1)" text-anchor="middle" textLength="2.8" lengthAdjust="spacingAndGlyphs">4</text>
<text x="490.37" y="647.1" font-size="5.5" transform="rotate(0.05 490.37 647.1)" text-anchor="middle" textLength="2.8" lengthAdjust="spacingAndGlyphs">1</text>
<text x="504.36" y="647.1" font-size="5.5" transform="rotate(0.05 504.36 647.1)" text-anchor="middle" textLength="2.8" lengthAdjust="spacingAndGlyphs">1</text>
<text x="301" y="655.7" font-size="5.5" transform="rotate(0.05 301 655.7)" text-anchor="end" textLength="27.4" lengthAdjust="spacingAndGlyphs">Pleomorphic</text>
<text x="308.5" y="655.7" font-size="5.5" transform="rotate(0.05 308.5 655.7)" text-anchor="middle" textLength="5.7" lengthAdjust="spacingAndGlyphs">31</text>
<text x="322.49" y="655.7" font-size="5.5" transform="rotate(0.05 322.49 655.7)" text-anchor="middle" textLength="5.7" lengthAdjust="spacingAndGlyphs">18</text>
<text x="336.48" y="655.7" font-size="5.5" transform="rotate(0.05 336.48 655.7)" text-anchor="middle" textLength="2.8" lengthAdjust="spacingAndGlyphs">8</text>
<text x="350.47" y="655.7" font-size="5.5" transform="rotate(0.05 350.47 655.7)" text-anchor="middle" textLength="2.8" lengthAdjust="spacingAndGlyphs">6</text>
<text x="364.46" y="655.7" font-size="5.5" transform="rotate(0.05 364.46 655.7)" text-anchor="middle" textLength="2.8" lengthAdjust="spacingAndGlyphs">5</text>
<text x="378.45" y="655.7" font-size="5.5" transform="rotate(0.05 378.45 655.7)" text-anchor="middle" textLength="2.8" lengthAdjust="spacingAndGlyphs">4</text>
<text x="392.44" y="655.7" font-size="5.5" transform="rotate(0.05 392.44 655.7)" text-anchor="middle" textLength="2.8" lengthAdjust="spacingAndGlyphs">4</text>
<text x="406.43" y="655.7" font-size="5.5" transform="rotate(0.05 406.43 655.7)" text-anchor="middle" textLength="2.8" lengthAdjust="spacingAndGlyphs">1</text>
<text x="420.42" y="655.7" font-size="5.5" transform="rotate(0.05 420.42 655.7)" text-anchor="middle" textLength="2.8" lengthAdjust="spacingAndGlyphs">1</text>
<text x="434.41" y="655.7" font-size="5.5" transform="rotate(0.05 434.41 655.7)" text-anchor="middle" textLength="2.8" lengthAdjust="spacingAndGlyphs">1</text>
<text x="448.4" y="655.7" font-size="5.5" transform="rotate(0.05 448.4 655.7)" text-anchor="middle" textLength="2.8" lengthAdjust="spacingAndGlyphs">1</text>
<text x="462.39" y="655.7" font-size="5.5" transform="rotate(0.05 462.39 655.7)" text-anchor="middle" textLength="2.8" lengthAdjust="spacingAndGlyphs">1</text>
<text x="476.38" y="655.7" font-size="5.5" transform="rotate(0.05 476.38 655.7)" text-anchor="middle" textLength="2.8" lengthAdjust="spacingAndGlyphs">0</text>
<text x="490.37" y="655.7" font-size="5.5" transform="rotate(0.05 490.37 655.7)" text-anchor="middle" textLength="2.8" lengthAdjust="spacingAndGlyphs">0</text>
<text x="504.36" y="655.7" font-size="5.5" transform="rotate(0.05 504.36 655.7)" text-anchor="middle" textLength="2.8" lengthAdjust="spacingAndGlyphs">0</text>
<text x="110.2" y="32.9" font-size="5.3" transform="rotate(0.05 110.2 32.9)" textLength="3.5" lengthAdjust="spacingAndGlyphs">N</text>
<text x="118.5" y="32.65" font-size="5.2" transform="rotate(0.05 118.5 32.65)" textLength="57" lengthAdjust="spacingAndGlyphs">(Deaths) Median (95%CI)</text>
<text x="110.3" y="50.65" font-size="5.2" transform="rotate(0.05 110.3 50.65)" textLength="48.8" lengthAdjust="spacingAndGlyphs">183 (115) 33 (20-48)</text>
<text x="490.3" y="35.45" font-size="5.2" textLength="22.4" lengthAdjust="spacingAndGlyphs" transform="rotate(0.05 490.3 35.45)"><tspan font-style="italic">p</tspan> = 0.001</text>
<text x="435.1" y="43.95" font-size="5.2" transform="rotate(0.05 435.1 43.95)" textLength="61.8" lengthAdjust="spacingAndGlyphs">N (Deaths) Median (95%CI)</text>
<text x="446.3" y="53.65" font-size="5.2" transform="rotate(0.05 446.3 53.65)" textLength="66.4" lengthAdjust="spacingAndGlyphs">Age&lt;72: 141 (85) 43 (24-67)</text>
<text x="446.3" y="64.65" font-size="5.2" transform="rotate(0.05 446.3 64.65)" textLength="60.7" lengthAdjust="spacingAndGlyphs">Age≥72: 42 (30) 11 (6-28)</text>
<text x="228.8" y="259.35" font-size="5.2" textLength="20.9" lengthAdjust="spacingAndGlyphs" transform="rotate(0.05 228.8 259.35)"><tspan font-style="italic">p</tspan> &lt; 0.001</text>
<text x="161.3" y="267.85" font-size="5.2" transform="rotate(0.05 161.3 267.85)" textLength="62.4" lengthAdjust="spacingAndGlyphs">N (Deaths) Median (95%CI)</text>
<text x="173" y="276.75" font-size="5.2" transform="rotate(0.05 173 276.75)" textLength="77.3" lengthAdjust="spacingAndGlyphs">P0: 40 (18) 67 (29-Not Estimable)</text>
<text x="173" y="285.55" font-size="5.2" transform="rotate(0.05 173 285.55)" textLength="55.2" lengthAdjust="spacingAndGlyphs">P1: 103 (63) 44 (24-59)</text>
<text x="173" y="294.35" font-size="5.2" transform="rotate(0.05 173 294.35)" textLength="45.9" lengthAdjust="spacingAndGlyphs">P2: 27 (21) 9 (2-22)</text>
<text x="173" y="303.15" font-size="5.2" transform="rotate(0.05 173 303.15)" textLength="69.6" lengthAdjust="spacingAndGlyphs">P3: 5 (5) 9 (0.3-Not Estimable)</text>
<text x="173" y="311.95" font-size="5.2" transform="rotate(0.05 173 311.95)" textLength="74" lengthAdjust="spacingAndGlyphs">P4: 6 (6) 0.5 (0.1-Not Estimable)</text>
<text x="485.7" y="241.35" font-size="5.2" textLength="21.3" lengthAdjust="spacingAndGlyphs" transform="rotate(0.05 485.7 241.35)"><tspan font-style="italic">p</tspan> &lt; 0.001</text>
<text x="425.2" y="250.15" font-size="5.2" transform="rotate(0.05 425.2 250.15)" textLength="81.8" lengthAdjust="spacingAndGlyphs">PLT&gt;63: N (Death) Median (95%CI)</text>
<text x="440.7" y="259.85" font-size="5.2" transform="rotate(0.05 440.7 259.85)" textLength="50.2" lengthAdjust="spacingAndGlyphs">No: 17 (17) 9 (0.4-15)</text>
<text x="440.7" y="270.85" font-size="5.2" transform="rotate(0.05 440.7 270.85)" textLength="55.9" lengthAdjust="spacingAndGlyphs">Yes: 161 (94) 44 (27-59)</text>
<text x="229" y="480.45" font-size="5.2" textLength="20.6" lengthAdjust="spacingAndGlyphs" transform="rotate(0.05 229 480.45)"><tspan font-style="italic">p</tspan> &lt; 0.001</text>
<text x="178.4" y="488.45" font-size="5.2" transform="rotate(0.05 178.4 488.45)" textLength="70.7" lengthAdjust="spacingAndGlyphs">CR: N (Death) Median (95%CI)</text>
<text x="194.1" y="498.85" font-size="5.2" transform="rotate(0.05 194.1 498.85)" textLength="48.7" lengthAdjust="spacingAndGlyphs">No: 72 (55) 13 (9-20)</text>
<text x="194.1" y="510.05" font-size="5.2" transform="rotate(0.05 194.1 510.05)" textLength="56.7" lengthAdjust="spacingAndGlyphs">Yes: 90 (45) 72 (45-107)</text>
<text x="481.5" y="474.75" font-size="5.2" textLength="22.5" lengthAdjust="spacingAndGlyphs" transform="rotate(0.05 481.5 474.75)"><tspan font-style="italic">p</tspan> = 0.640</text>
<text x="419.9" y="483.25" font-size="5.2" transform="rotate(0.05 419.9 483.25)" textLength="59.4" lengthAdjust="spacingAndGlyphs">N (Death) Median (95%CI)</text>
<text x="430.5" y="492.85" font-size="5.2" transform="rotate(0.05 430.5 492.85)" textLength="66.1" lengthAdjust="spacingAndGlyphs">Blastoid: 152 (97) 34 (20-57)</text>
<text x="430.5" y="503.85" font-size="5.2" transform="rotate(0.05 430.5 503.85)" textLength="73.5" lengthAdjust="spacingAndGlyphs">Pleomorphic: 31 (18) 22 (12-50)</text>
</g>
<rect x="0.5" y="0.5" width="519" height="663" fill="none" stroke="#000" stroke-width="1"/>
</svg>
</body></html>
